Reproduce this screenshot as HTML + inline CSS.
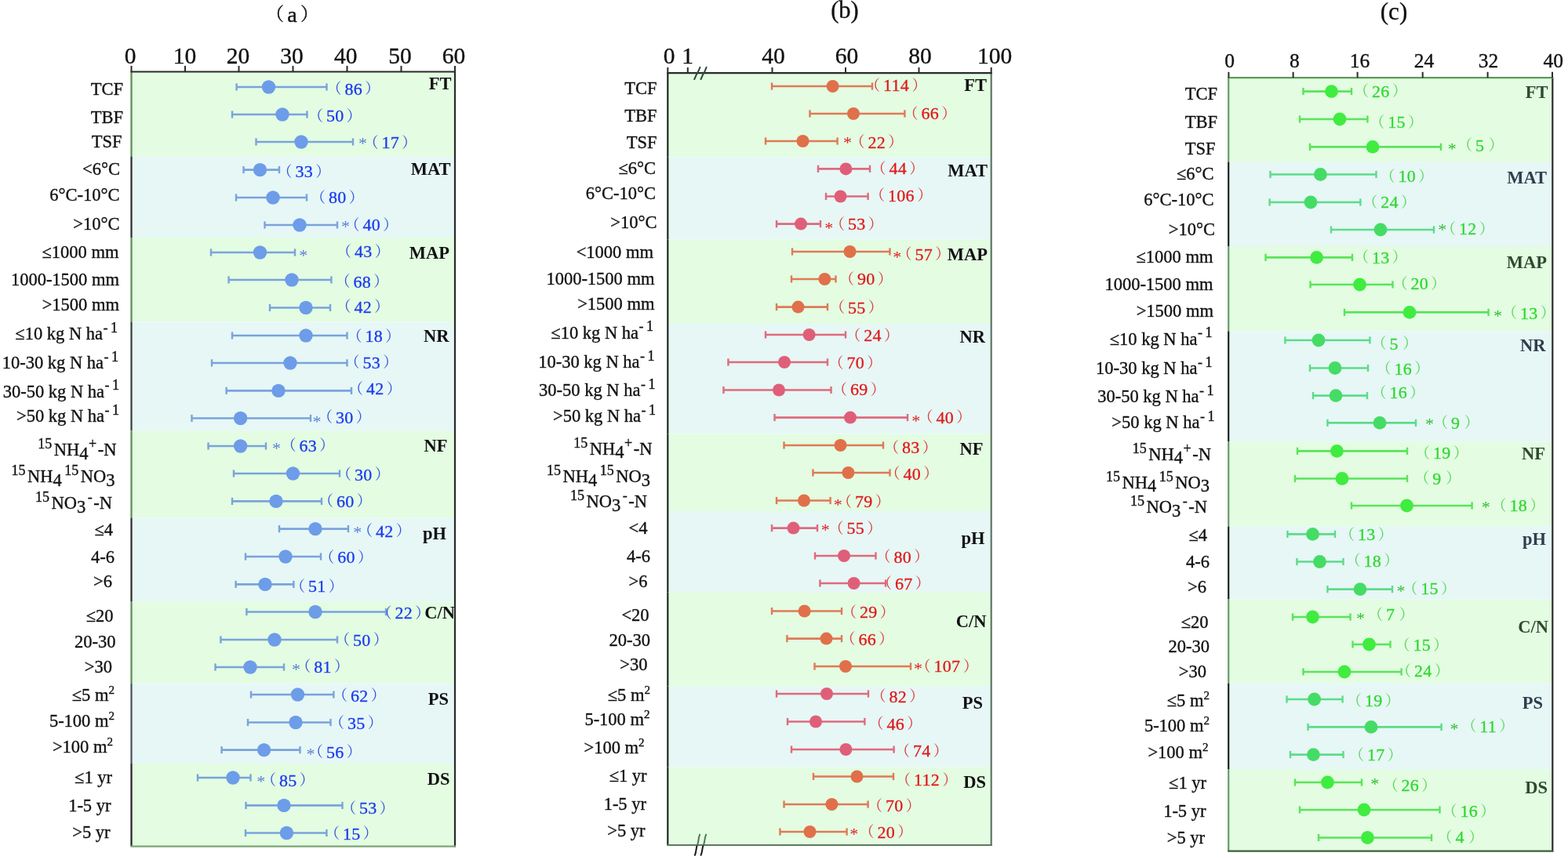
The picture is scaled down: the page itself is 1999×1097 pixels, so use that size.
<!DOCTYPE html>
<html><head><meta charset="utf-8"><title>Figure</title>
<style>
html,body{margin:0;padding:0;background:#fff;}
svg{display:block;}
svg text{font-family:'Liberation Serif', 'Noto Serif CJK SC', serif;}
svg .lbl{stroke:#111;stroke-width:0.35px;}
svg .cjk{font-family:'Noto Serif CJK SC',serif;}
svg .lat{font-family:'Liberation Serif',serif;}
</style></head>
<body>
<svg width="1999" height="1097" viewBox="0 0 1999 1097">
<rect width="1999" height="1097" fill="#fff"/>
<rect x="167.5" y="91.5" width="412.5" height="108.0" fill="#e3fce2"/>
<rect x="167.5" y="199.5" width="412.5" height="103.5" fill="#e6f7f6"/>
<rect x="167.5" y="303.0" width="412.5" height="107.5" fill="#e3fce2"/>
<rect x="167.5" y="410.5" width="412.5" height="138.9" fill="#e6f7f6"/>
<rect x="167.5" y="549.4" width="412.5" height="111.1" fill="#e3fce2"/>
<rect x="167.5" y="660.5" width="412.5" height="107.1" fill="#e6f7f6"/>
<rect x="167.5" y="767.6" width="412.5" height="103.8" fill="#e3fce2"/>
<rect x="167.5" y="871.4" width="412.5" height="102.6" fill="#e6f7f6"/>
<rect x="167.5" y="974.0" width="412.5" height="105.6" fill="#e3fce2"/>
<line x1="167.5" y1="91.5" x2="167.5" y2="199.5" stroke="#5e8a55" stroke-width="2.2"/>
<line x1="167.5" y1="199.5" x2="167.5" y2="303.0" stroke="#2b2b2b" stroke-width="2.2"/>
<line x1="167.5" y1="303.0" x2="167.5" y2="410.5" stroke="#5e8a55" stroke-width="2.2"/>
<line x1="167.5" y1="410.5" x2="167.5" y2="549.4" stroke="#34403a" stroke-width="2.2"/>
<line x1="167.5" y1="549.4" x2="167.5" y2="660.5" stroke="#5e8a55" stroke-width="2.2"/>
<line x1="167.5" y1="660.5" x2="167.5" y2="767.6" stroke="#2b2b2b" stroke-width="2.2"/>
<line x1="167.5" y1="767.6" x2="167.5" y2="871.4" stroke="#5e8a55" stroke-width="2.2"/>
<line x1="167.5" y1="871.4" x2="167.5" y2="974.0" stroke="#4a5058" stroke-width="2.2"/>
<line x1="167.5" y1="974.0" x2="167.5" y2="1079.6" stroke="#222222" stroke-width="2.2"/>
<line x1="580.0" y1="91.5" x2="580.0" y2="1080.6" stroke="#2b2b2b" stroke-width="2.2"/>
<line x1="166.5" y1="1079.6" x2="581.0" y2="1079.6" stroke="#7ea476" stroke-width="2.2"/>
<line x1="166.5" y1="91.5" x2="581.0" y2="91.5" stroke="#2b2b2b" stroke-width="2.2"/>
<line x1="167.5" y1="84.0" x2="167.5" y2="91.5" stroke="#2b2b2b" stroke-width="2"/>
<text class="lbl" x="166.2" y="81.0" text-anchor="middle" font-size="29.5" fill="#111">0</text>
<line x1="236.0" y1="84.0" x2="236.0" y2="91.5" stroke="#2b2b2b" stroke-width="2"/>
<text class="lbl" x="235.5" y="81.0" text-anchor="middle" font-size="29.5" fill="#111">10</text>
<line x1="304.5" y1="84.0" x2="304.5" y2="91.5" stroke="#2b2b2b" stroke-width="2"/>
<text class="lbl" x="303.5" y="81.0" text-anchor="middle" font-size="29.5" fill="#111">20</text>
<line x1="373.5" y1="84.0" x2="373.5" y2="91.5" stroke="#2b2b2b" stroke-width="2"/>
<text class="lbl" x="372.0" y="81.0" text-anchor="middle" font-size="29.5" fill="#111">30</text>
<line x1="442.5" y1="84.0" x2="442.5" y2="91.5" stroke="#2b2b2b" stroke-width="2"/>
<text class="lbl" x="440.8" y="81.0" text-anchor="middle" font-size="29.5" fill="#111">40</text>
<line x1="511.5" y1="84.0" x2="511.5" y2="91.5" stroke="#2b2b2b" stroke-width="2"/>
<text class="lbl" x="510.0" y="81.0" text-anchor="middle" font-size="29.5" fill="#111">50</text>
<line x1="580.0" y1="84.0" x2="580.0" y2="91.5" stroke="#2b2b2b" stroke-width="2"/>
<text class="lbl" x="578.6" y="81.0" text-anchor="middle" font-size="29.5" fill="#111">60</text>
<text class="lbl" x="339" y="27.5" font-size="23" fill="#111"><tspan class="cjk" dy="-1.2">（</tspan><tspan class="lat" font-size="28" dx="4.3" dy="1.2">a</tspan><tspan class="cjk" dx="4.3" dy="-1.2">）</tspan></text>
<line x1="301.6" y1="111.0" x2="416.5" y2="111.0" stroke="#7aa3dc" stroke-width="2.6"/>
<line x1="301.6" y1="106.4" x2="301.6" y2="115.6" stroke="#7aa3dc" stroke-width="2.4"/>
<line x1="416.5" y1="106.4" x2="416.5" y2="115.6" stroke="#7aa3dc" stroke-width="2.4"/>
<circle cx="342.5" cy="111.0" r="8.7" fill="#6d9ce8"/>
<text x="416.4" y="120.9" font-size="19" fill="#1a3af0"><tspan class="cjk" dy="-0.5" fill="#3556e0">（</tspan><tspan class="lat" dx="4.0" dy="0.5" font-size="22" letter-spacing="0.3" stroke="#1a3af0" stroke-width="0.3">86</tspan><tspan class="cjk" dx="3.1" dy="-0.5" fill="#3556e0">）</tspan></text>
<text class="lbl" x="157.0" y="121.4" text-anchor="end" fill="#111" ><tspan font-size="22.5">TCF</tspan></text>
<line x1="296.0" y1="146.0" x2="391.5" y2="146.0" stroke="#7aa3dc" stroke-width="2.6"/>
<line x1="296.0" y1="141.4" x2="296.0" y2="150.6" stroke="#7aa3dc" stroke-width="2.4"/>
<line x1="391.5" y1="141.4" x2="391.5" y2="150.6" stroke="#7aa3dc" stroke-width="2.4"/>
<circle cx="360.0" cy="146.0" r="8.7" fill="#6d9ce8"/>
<text x="392.9" y="155.3" font-size="19" fill="#1a3af0"><tspan class="cjk" dy="-0.5" fill="#3556e0">（</tspan><tspan class="lat" dx="4.0" dy="0.5" font-size="22" letter-spacing="0.3" stroke="#1a3af0" stroke-width="0.3">50</tspan><tspan class="cjk" dx="3.1" dy="-0.5" fill="#3556e0">）</tspan></text>
<text class="lbl" x="157.0" y="157.2" text-anchor="end" fill="#111" ><tspan font-size="22.5">TBF</tspan></text>
<line x1="326.5" y1="181.0" x2="450.0" y2="181.0" stroke="#7aa3dc" stroke-width="2.6"/>
<line x1="326.5" y1="176.4" x2="326.5" y2="185.6" stroke="#7aa3dc" stroke-width="2.4"/>
<line x1="450.0" y1="176.4" x2="450.0" y2="185.6" stroke="#7aa3dc" stroke-width="2.4"/>
<circle cx="384.0" cy="181.0" r="8.7" fill="#6d9ce8"/>
<text x="462.5" y="189.8" text-anchor="middle" font-size="22" fill="#5a7fd8">*</text>
<text x="463.4" y="189.2" font-size="19" fill="#1a3af0"><tspan class="cjk" dy="-0.5" fill="#3556e0">（</tspan><tspan class="lat" dx="4.0" dy="0.5" font-size="22" letter-spacing="0.3" stroke="#1a3af0" stroke-width="0.3">17</tspan><tspan class="cjk" dx="3.1" dy="-0.5" fill="#3556e0">）</tspan></text>
<text class="lbl" x="155.5" y="187.5" text-anchor="end" fill="#111" ><tspan font-size="22.5">TSF</tspan></text>
<line x1="310.5" y1="216.6" x2="356.0" y2="216.6" stroke="#7aa3dc" stroke-width="2.6"/>
<line x1="310.5" y1="212.0" x2="310.5" y2="221.2" stroke="#7aa3dc" stroke-width="2.4"/>
<line x1="356.0" y1="212.0" x2="356.0" y2="221.2" stroke="#7aa3dc" stroke-width="2.4"/>
<circle cx="331.5" cy="216.6" r="8.7" fill="#6d9ce8"/>
<text x="353.4" y="226.2" font-size="19" fill="#1a3af0"><tspan class="cjk" dy="-0.5" fill="#3556e0">（</tspan><tspan class="lat" dx="4.0" dy="0.5" font-size="22" letter-spacing="0.3" stroke="#1a3af0" stroke-width="0.3">33</tspan><tspan class="cjk" dx="3.1" dy="-0.5" fill="#3556e0">）</tspan></text>
<text class="lbl" x="153.0" y="222.6" text-anchor="end" fill="#111" ><tspan font-size="22.5">&lt;6°C</tspan></text>
<line x1="301.0" y1="252.0" x2="391.0" y2="252.0" stroke="#7aa3dc" stroke-width="2.6"/>
<line x1="301.0" y1="247.4" x2="301.0" y2="256.6" stroke="#7aa3dc" stroke-width="2.4"/>
<line x1="391.0" y1="247.4" x2="391.0" y2="256.6" stroke="#7aa3dc" stroke-width="2.4"/>
<circle cx="348.0" cy="252.0" r="8.7" fill="#6d9ce8"/>
<text x="395.9" y="259.3" font-size="19" fill="#1a3af0"><tspan class="cjk" dy="-0.5" fill="#3556e0">（</tspan><tspan class="lat" dx="4.0" dy="0.5" font-size="22" letter-spacing="0.3" stroke="#1a3af0" stroke-width="0.3">80</tspan><tspan class="cjk" dx="3.1" dy="-0.5" fill="#3556e0">）</tspan></text>
<text class="lbl" x="152.5" y="256.3" text-anchor="end" fill="#111" ><tspan font-size="22.5">6°C-10°C</tspan></text>
<line x1="337.5" y1="287.0" x2="430.0" y2="287.0" stroke="#7aa3dc" stroke-width="2.6"/>
<line x1="337.5" y1="282.4" x2="337.5" y2="291.6" stroke="#7aa3dc" stroke-width="2.4"/>
<line x1="430.0" y1="282.4" x2="430.0" y2="291.6" stroke="#7aa3dc" stroke-width="2.4"/>
<circle cx="382.0" cy="287.0" r="8.7" fill="#6d9ce8"/>
<text x="440.4" y="296.1" text-anchor="middle" font-size="22" fill="#5a7fd8">*</text>
<text x="439.4" y="294.2" font-size="19" fill="#1a3af0"><tspan class="cjk" dy="-0.5" fill="#3556e0">（</tspan><tspan class="lat" dx="4.0" dy="0.5" font-size="22" letter-spacing="0.3" stroke="#1a3af0" stroke-width="0.3">40</tspan><tspan class="cjk" dx="3.1" dy="-0.5" fill="#3556e0">）</tspan></text>
<text class="lbl" x="152.5" y="292.7" text-anchor="end" fill="#111" ><tspan font-size="22.5">&gt;10°C</tspan></text>
<line x1="269.0" y1="322.0" x2="376.0" y2="322.0" stroke="#7aa3dc" stroke-width="2.6"/>
<line x1="269.0" y1="317.4" x2="269.0" y2="326.6" stroke="#7aa3dc" stroke-width="2.4"/>
<line x1="376.0" y1="317.4" x2="376.0" y2="326.6" stroke="#7aa3dc" stroke-width="2.4"/>
<circle cx="331.5" cy="322.0" r="8.7" fill="#6d9ce8"/>
<text x="386.8" y="332.8" text-anchor="middle" font-size="22" fill="#5a7fd8">*</text>
<text x="428.9" y="328.4" font-size="19" fill="#1a3af0"><tspan class="cjk" dy="-0.5" fill="#3556e0">（</tspan><tspan class="lat" dx="4.0" dy="0.5" font-size="22" letter-spacing="0.3" stroke="#1a3af0" stroke-width="0.3">43</tspan><tspan class="cjk" dx="3.1" dy="-0.5" fill="#3556e0">）</tspan></text>
<text class="lbl" x="151.5" y="329.0" text-anchor="end" fill="#111" ><tspan font-size="22.5">≤1000 mm</tspan></text>
<line x1="291.6" y1="357.0" x2="422.4" y2="357.0" stroke="#7aa3dc" stroke-width="2.6"/>
<line x1="291.6" y1="352.4" x2="291.6" y2="361.6" stroke="#7aa3dc" stroke-width="2.4"/>
<line x1="422.4" y1="352.4" x2="422.4" y2="361.6" stroke="#7aa3dc" stroke-width="2.4"/>
<circle cx="372.0" cy="357.0" r="8.7" fill="#6d9ce8"/>
<text x="427.4" y="366.7" font-size="19" fill="#1a3af0"><tspan class="cjk" dy="-0.5" fill="#3556e0">（</tspan><tspan class="lat" dx="4.0" dy="0.5" font-size="22" letter-spacing="0.3" stroke="#1a3af0" stroke-width="0.3">68</tspan><tspan class="cjk" dx="3.1" dy="-0.5" fill="#3556e0">）</tspan></text>
<text class="lbl" x="152.0" y="364.2" text-anchor="end" fill="#111" ><tspan font-size="22.5">1000-1500 mm</tspan></text>
<line x1="344.0" y1="392.5" x2="421.0" y2="392.5" stroke="#7aa3dc" stroke-width="2.6"/>
<line x1="344.0" y1="387.9" x2="344.0" y2="397.1" stroke="#7aa3dc" stroke-width="2.4"/>
<line x1="421.0" y1="387.9" x2="421.0" y2="397.1" stroke="#7aa3dc" stroke-width="2.4"/>
<circle cx="390.0" cy="392.5" r="8.7" fill="#6d9ce8"/>
<text x="428.4" y="398.8" font-size="19" fill="#1a3af0"><tspan class="cjk" dy="-0.5" fill="#3556e0">（</tspan><tspan class="lat" dx="4.0" dy="0.5" font-size="22" letter-spacing="0.3" stroke="#1a3af0" stroke-width="0.3">42</tspan><tspan class="cjk" dx="3.1" dy="-0.5" fill="#3556e0">）</tspan></text>
<text class="lbl" x="152.0" y="396.0" text-anchor="end" fill="#111" ><tspan font-size="22.5">&gt;1500 mm</tspan></text>
<line x1="296.0" y1="428.0" x2="442.5" y2="428.0" stroke="#7aa3dc" stroke-width="2.6"/>
<line x1="296.0" y1="423.4" x2="296.0" y2="432.6" stroke="#7aa3dc" stroke-width="2.4"/>
<line x1="442.5" y1="423.4" x2="442.5" y2="432.6" stroke="#7aa3dc" stroke-width="2.4"/>
<circle cx="390.0" cy="428.0" r="8.7" fill="#6d9ce8"/>
<text x="442.4" y="436.2" font-size="19" fill="#1a3af0"><tspan class="cjk" dy="-0.5" fill="#3556e0">（</tspan><tspan class="lat" dx="4.0" dy="0.5" font-size="22" letter-spacing="0.3" stroke="#1a3af0" stroke-width="0.3">18</tspan><tspan class="cjk" dx="3.1" dy="-0.5" fill="#3556e0">）</tspan></text>
<text class="lbl" x="150.0" y="433.0" text-anchor="end" fill="#111" ><tspan font-size="22.5">≤10 kg N ha</tspan><tspan font-size="18" dy="-9.5" dx="0.5">-</tspan><tspan font-size="18" dx="3.5">1</tspan></text>
<line x1="270.0" y1="463.0" x2="442.5" y2="463.0" stroke="#7aa3dc" stroke-width="2.6"/>
<line x1="270.0" y1="458.4" x2="270.0" y2="467.6" stroke="#7aa3dc" stroke-width="2.4"/>
<line x1="442.5" y1="458.4" x2="442.5" y2="467.6" stroke="#7aa3dc" stroke-width="2.4"/>
<circle cx="370.0" cy="463.0" r="8.7" fill="#6d9ce8"/>
<text x="439.4" y="469.7" font-size="19" fill="#1a3af0"><tspan class="cjk" dy="-0.5" fill="#3556e0">（</tspan><tspan class="lat" dx="4.0" dy="0.5" font-size="22" letter-spacing="0.3" stroke="#1a3af0" stroke-width="0.3">53</tspan><tspan class="cjk" dx="3.1" dy="-0.5" fill="#3556e0">）</tspan></text>
<text class="lbl" x="151.0" y="470.0" text-anchor="end" fill="#111" ><tspan font-size="22.5">10-30 kg N ha</tspan><tspan font-size="18" dy="-9.5" dx="0.5">-</tspan><tspan font-size="18" dx="3.5">1</tspan></text>
<line x1="288.6" y1="498.4" x2="448.0" y2="498.4" stroke="#7aa3dc" stroke-width="2.6"/>
<line x1="288.6" y1="493.8" x2="288.6" y2="503.0" stroke="#7aa3dc" stroke-width="2.4"/>
<line x1="448.0" y1="493.8" x2="448.0" y2="503.0" stroke="#7aa3dc" stroke-width="2.4"/>
<circle cx="355.0" cy="498.4" r="8.7" fill="#6d9ce8"/>
<text x="443.9" y="503.2" font-size="19" fill="#1a3af0"><tspan class="cjk" dy="-0.5" fill="#3556e0">（</tspan><tspan class="lat" dx="4.0" dy="0.5" font-size="22" letter-spacing="0.3" stroke="#1a3af0" stroke-width="0.3">42</tspan><tspan class="cjk" dx="3.1" dy="-0.5" fill="#3556e0">）</tspan></text>
<text class="lbl" x="152.0" y="506.5" text-anchor="end" fill="#111" ><tspan font-size="22.5">30-50 kg N ha</tspan><tspan font-size="18" dy="-9.5" dx="0.5">-</tspan><tspan font-size="18" dx="3.5">1</tspan></text>
<line x1="244.5" y1="533.5" x2="396.0" y2="533.5" stroke="#7aa3dc" stroke-width="2.6"/>
<line x1="244.5" y1="528.9" x2="244.5" y2="538.1" stroke="#7aa3dc" stroke-width="2.4"/>
<line x1="396.0" y1="528.9" x2="396.0" y2="538.1" stroke="#7aa3dc" stroke-width="2.4"/>
<circle cx="306.6" cy="533.5" r="8.7" fill="#6d9ce8"/>
<text x="404.0" y="544.7" text-anchor="middle" font-size="22" fill="#5a7fd8">*</text>
<text x="404.9" y="539.9" font-size="19" fill="#1a3af0"><tspan class="cjk" dy="-0.5" fill="#3556e0">（</tspan><tspan class="lat" dx="4.0" dy="0.5" font-size="22" letter-spacing="0.3" stroke="#1a3af0" stroke-width="0.3">30</tspan><tspan class="cjk" dx="3.1" dy="-0.5" fill="#3556e0">）</tspan></text>
<text class="lbl" x="152.0" y="538.4" text-anchor="end" fill="#111" ><tspan font-size="22.5">&gt;50 kg N ha</tspan><tspan font-size="18" dy="-9.5" dx="0.5">-</tspan><tspan font-size="18" dx="3.5">1</tspan></text>
<line x1="265.5" y1="569.0" x2="339.0" y2="569.0" stroke="#7aa3dc" stroke-width="2.6"/>
<line x1="265.5" y1="564.4" x2="265.5" y2="573.6" stroke="#7aa3dc" stroke-width="2.4"/>
<line x1="339.0" y1="564.4" x2="339.0" y2="573.6" stroke="#7aa3dc" stroke-width="2.4"/>
<circle cx="306.6" cy="569.0" r="8.7" fill="#6d9ce8"/>
<text x="352.5" y="579.1" text-anchor="middle" font-size="22" fill="#5a7fd8">*</text>
<text x="358.4" y="575.9" font-size="19" fill="#1a3af0"><tspan class="cjk" dy="-0.5" fill="#3556e0">（</tspan><tspan class="lat" dx="4.0" dy="0.5" font-size="22" letter-spacing="0.3" stroke="#1a3af0" stroke-width="0.3">63</tspan><tspan class="cjk" dx="3.1" dy="-0.5" fill="#3556e0">）</tspan></text>
<text class="lbl" x="148.5" y="581.0" text-anchor="end" fill="#111" ><tspan font-size="18" dy="-9">15</tspan><tspan font-size="22.5" dy="9" dx="2.5">NH</tspan><tspan font-size="22.5" dy="4.5">4</tspan><tspan font-size="18" dy="-13.5" dx="0.5">+</tspan><tspan font-size="22.5" dy="9" dx="1.5">-N</tspan></text>
<line x1="298.0" y1="604.0" x2="433.0" y2="604.0" stroke="#7aa3dc" stroke-width="2.6"/>
<line x1="298.0" y1="599.4" x2="298.0" y2="608.6" stroke="#7aa3dc" stroke-width="2.4"/>
<line x1="433.0" y1="599.4" x2="433.0" y2="608.6" stroke="#7aa3dc" stroke-width="2.4"/>
<circle cx="373.5" cy="604.0" r="8.7" fill="#6d9ce8"/>
<text x="428.9" y="612.7" font-size="19" fill="#1a3af0"><tspan class="cjk" dy="-0.5" fill="#3556e0">（</tspan><tspan class="lat" dx="4.0" dy="0.5" font-size="22" letter-spacing="0.3" stroke="#1a3af0" stroke-width="0.3">30</tspan><tspan class="cjk" dx="3.1" dy="-0.5" fill="#3556e0">）</tspan></text>
<text class="lbl" x="146.5" y="615.2" text-anchor="end" fill="#111" ><tspan font-size="18" dy="-9">15</tspan><tspan font-size="22.5" dy="9" dx="2.5">NH</tspan><tspan font-size="22.5" dy="4.5">4</tspan><tspan font-size="18" dy="-13.5" dx="3.5">15</tspan><tspan font-size="22.5" dy="9" dx="2.5">NO</tspan><tspan font-size="22.5" dy="4.5">3</tspan></text>
<line x1="296.0" y1="639.4" x2="410.0" y2="639.4" stroke="#7aa3dc" stroke-width="2.6"/>
<line x1="296.0" y1="634.8" x2="296.0" y2="644.0" stroke="#7aa3dc" stroke-width="2.4"/>
<line x1="410.0" y1="634.8" x2="410.0" y2="644.0" stroke="#7aa3dc" stroke-width="2.4"/>
<circle cx="352.0" cy="639.4" r="8.7" fill="#6d9ce8"/>
<text x="405.9" y="646.7" font-size="19" fill="#1a3af0"><tspan class="cjk" dy="-0.5" fill="#3556e0">（</tspan><tspan class="lat" dx="4.0" dy="0.5" font-size="22" letter-spacing="0.3" stroke="#1a3af0" stroke-width="0.3">60</tspan><tspan class="cjk" dx="3.1" dy="-0.5" fill="#3556e0">）</tspan></text>
<text class="lbl" x="143.0" y="649.3" text-anchor="end" fill="#111" ><tspan font-size="18" dy="-9">15</tspan><tspan font-size="22.5" dy="9" dx="2.5">NO</tspan><tspan font-size="22.5" dy="4.5">3</tspan><tspan font-size="18" dy="-13.5" dx="2.5">-</tspan><tspan font-size="22.5" dy="9" dx="1.5">-N</tspan></text>
<line x1="356.0" y1="674.6" x2="444.0" y2="674.6" stroke="#7aa3dc" stroke-width="2.6"/>
<line x1="356.0" y1="670.0" x2="356.0" y2="679.2" stroke="#7aa3dc" stroke-width="2.4"/>
<line x1="444.0" y1="670.0" x2="444.0" y2="679.2" stroke="#7aa3dc" stroke-width="2.4"/>
<circle cx="402.0" cy="674.6" r="8.7" fill="#6d9ce8"/>
<text x="455.7" y="686.4" text-anchor="middle" font-size="22" fill="#5a7fd8">*</text>
<text x="455.9" y="684.5" font-size="19" fill="#1a3af0"><tspan class="cjk" dy="-0.5" fill="#3556e0">（</tspan><tspan class="lat" dx="4.0" dy="0.5" font-size="22" letter-spacing="0.3" stroke="#1a3af0" stroke-width="0.3">42</tspan><tspan class="cjk" dx="3.1" dy="-0.5" fill="#3556e0">）</tspan></text>
<text class="lbl" x="144.0" y="683.0" text-anchor="end" fill="#111" ><tspan font-size="22.5">≤4</tspan></text>
<line x1="313.0" y1="710.0" x2="409.0" y2="710.0" stroke="#7aa3dc" stroke-width="2.6"/>
<line x1="313.0" y1="705.4" x2="313.0" y2="714.6" stroke="#7aa3dc" stroke-width="2.4"/>
<line x1="409.0" y1="705.4" x2="409.0" y2="714.6" stroke="#7aa3dc" stroke-width="2.4"/>
<circle cx="364.0" cy="710.0" r="8.7" fill="#6d9ce8"/>
<text x="407.3" y="718.0" font-size="19" fill="#1a3af0"><tspan class="cjk" dy="-0.5" fill="#3556e0">（</tspan><tspan class="lat" dx="4.0" dy="0.5" font-size="22" letter-spacing="0.3" stroke="#1a3af0" stroke-width="0.3">60</tspan><tspan class="cjk" dx="3.1" dy="-0.5" fill="#3556e0">）</tspan></text>
<text class="lbl" x="146.0" y="717.7" text-anchor="end" fill="#111" ><tspan font-size="22.5">4-6</tspan></text>
<line x1="300.6" y1="745.4" x2="374.4" y2="745.4" stroke="#7aa3dc" stroke-width="2.6"/>
<line x1="300.6" y1="740.8" x2="300.6" y2="750.0" stroke="#7aa3dc" stroke-width="2.4"/>
<line x1="374.4" y1="740.8" x2="374.4" y2="750.0" stroke="#7aa3dc" stroke-width="2.4"/>
<circle cx="338.0" cy="745.4" r="8.7" fill="#6d9ce8"/>
<text x="369.9" y="755.3" font-size="19" fill="#1a3af0"><tspan class="cjk" dy="-0.5" fill="#3556e0">（</tspan><tspan class="lat" dx="4.0" dy="0.5" font-size="22" letter-spacing="0.3" stroke="#1a3af0" stroke-width="0.3">51</tspan><tspan class="cjk" dx="3.1" dy="-0.5" fill="#3556e0">）</tspan></text>
<text class="lbl" x="143.0" y="749.0" text-anchor="end" fill="#111" ><tspan font-size="22.5">&gt;6</tspan></text>
<line x1="314.4" y1="780.5" x2="492.0" y2="780.5" stroke="#7aa3dc" stroke-width="2.6"/>
<line x1="314.4" y1="775.9" x2="314.4" y2="785.1" stroke="#7aa3dc" stroke-width="2.4"/>
<line x1="492.0" y1="775.9" x2="492.0" y2="785.1" stroke="#7aa3dc" stroke-width="2.4"/>
<circle cx="402.0" cy="780.5" r="8.7" fill="#6d9ce8"/>
<text x="480.5" y="789.2" font-size="19" fill="#1a3af0"><tspan class="cjk" dy="-0.5" fill="#3556e0">（</tspan><tspan class="lat" dx="4.0" dy="0.5" font-size="22" letter-spacing="0.3" stroke="#1a3af0" stroke-width="0.3">22</tspan><tspan class="cjk" dx="3.1" dy="-0.5" fill="#3556e0">）</tspan></text>
<text class="lbl" x="144.5" y="793.0" text-anchor="end" fill="#111" ><tspan font-size="22.5">≤20</tspan></text>
<line x1="281.4" y1="816.0" x2="430.0" y2="816.0" stroke="#7aa3dc" stroke-width="2.6"/>
<line x1="281.4" y1="811.4" x2="281.4" y2="820.6" stroke="#7aa3dc" stroke-width="2.4"/>
<line x1="430.0" y1="811.4" x2="430.0" y2="820.6" stroke="#7aa3dc" stroke-width="2.4"/>
<circle cx="350.0" cy="816.0" r="8.7" fill="#6d9ce8"/>
<text x="426.9" y="823.6" font-size="19" fill="#1a3af0"><tspan class="cjk" dy="-0.5" fill="#3556e0">（</tspan><tspan class="lat" dx="4.0" dy="0.5" font-size="22" letter-spacing="0.3" stroke="#1a3af0" stroke-width="0.3">50</tspan><tspan class="cjk" dx="3.1" dy="-0.5" fill="#3556e0">）</tspan></text>
<text class="lbl" x="147.5" y="825.6" text-anchor="end" fill="#111" ><tspan font-size="22.5">20-30</tspan></text>
<line x1="274.5" y1="851.0" x2="362.0" y2="851.0" stroke="#7aa3dc" stroke-width="2.6"/>
<line x1="274.5" y1="846.4" x2="274.5" y2="855.6" stroke="#7aa3dc" stroke-width="2.4"/>
<line x1="362.0" y1="846.4" x2="362.0" y2="855.6" stroke="#7aa3dc" stroke-width="2.4"/>
<circle cx="319.0" cy="851.0" r="8.7" fill="#6d9ce8"/>
<text x="377.6" y="861.0" text-anchor="middle" font-size="22" fill="#5a7fd8">*</text>
<text x="377.3" y="857.5" font-size="19" fill="#1a3af0"><tspan class="cjk" dy="-0.5" fill="#3556e0">（</tspan><tspan class="lat" dx="4.0" dy="0.5" font-size="22" letter-spacing="0.3" stroke="#1a3af0" stroke-width="0.3">81</tspan><tspan class="cjk" dx="3.1" dy="-0.5" fill="#3556e0">）</tspan></text>
<text class="lbl" x="143.0" y="858.0" text-anchor="end" fill="#111" ><tspan font-size="22.5">&gt;30</tspan></text>
<line x1="320.0" y1="886.0" x2="425.4" y2="886.0" stroke="#7aa3dc" stroke-width="2.6"/>
<line x1="320.0" y1="881.4" x2="320.0" y2="890.6" stroke="#7aa3dc" stroke-width="2.4"/>
<line x1="425.4" y1="881.4" x2="425.4" y2="890.6" stroke="#7aa3dc" stroke-width="2.4"/>
<circle cx="379.5" cy="886.0" r="8.7" fill="#6d9ce8"/>
<text x="423.9" y="894.5" font-size="19" fill="#1a3af0"><tspan class="cjk" dy="-0.5" fill="#3556e0">（</tspan><tspan class="lat" dx="4.0" dy="0.5" font-size="22" letter-spacing="0.3" stroke="#1a3af0" stroke-width="0.3">62</tspan><tspan class="cjk" dx="3.1" dy="-0.5" fill="#3556e0">）</tspan></text>
<text class="lbl" x="146.0" y="894.4" text-anchor="end" fill="#111" ><tspan font-size="22.5">≤5 m</tspan><tspan font-size="15" dy="-9">2</tspan></text>
<line x1="316.0" y1="921.5" x2="421.5" y2="921.5" stroke="#7aa3dc" stroke-width="2.6"/>
<line x1="316.0" y1="916.9" x2="316.0" y2="926.1" stroke="#7aa3dc" stroke-width="2.4"/>
<line x1="421.5" y1="916.9" x2="421.5" y2="926.1" stroke="#7aa3dc" stroke-width="2.4"/>
<circle cx="377.0" cy="921.5" r="8.7" fill="#6d9ce8"/>
<text x="419.9" y="929.5" font-size="19" fill="#1a3af0"><tspan class="cjk" dy="-0.5" fill="#3556e0">（</tspan><tspan class="lat" dx="4.0" dy="0.5" font-size="22" letter-spacing="0.3" stroke="#1a3af0" stroke-width="0.3">35</tspan><tspan class="cjk" dx="3.1" dy="-0.5" fill="#3556e0">）</tspan></text>
<text class="lbl" x="146.0" y="927.0" text-anchor="end" fill="#111" ><tspan font-size="22.5">5-100 m</tspan><tspan font-size="15" dy="-9">2</tspan></text>
<line x1="282.6" y1="956.6" x2="382.5" y2="956.6" stroke="#7aa3dc" stroke-width="2.6"/>
<line x1="282.6" y1="952.0" x2="282.6" y2="961.2" stroke="#7aa3dc" stroke-width="2.4"/>
<line x1="382.5" y1="952.0" x2="382.5" y2="961.2" stroke="#7aa3dc" stroke-width="2.4"/>
<circle cx="336.6" cy="956.6" r="8.7" fill="#6d9ce8"/>
<text x="395.9" y="969.3" text-anchor="middle" font-size="22" fill="#5a7fd8">*</text>
<text x="392.9" y="966.5" font-size="19" fill="#1a3af0"><tspan class="cjk" dy="-0.5" fill="#3556e0">（</tspan><tspan class="lat" dx="4.0" dy="0.5" font-size="22" letter-spacing="0.3" stroke="#1a3af0" stroke-width="0.3">56</tspan><tspan class="cjk" dx="3.1" dy="-0.5" fill="#3556e0">）</tspan></text>
<text class="lbl" x="144.0" y="960.0" text-anchor="end" fill="#111" ><tspan font-size="22.5">&gt;100 m</tspan><tspan font-size="15" dy="-9">2</tspan></text>
<line x1="252.0" y1="992.0" x2="319.5" y2="992.0" stroke="#7aa3dc" stroke-width="2.6"/>
<line x1="252.0" y1="987.4" x2="252.0" y2="996.6" stroke="#7aa3dc" stroke-width="2.4"/>
<line x1="319.5" y1="987.4" x2="319.5" y2="996.6" stroke="#7aa3dc" stroke-width="2.4"/>
<circle cx="297.0" cy="992.0" r="8.7" fill="#6d9ce8"/>
<text x="332.7" y="1003.5" text-anchor="middle" font-size="22" fill="#5a7fd8">*</text>
<text x="332.9" y="1002.7" font-size="19" fill="#1a3af0"><tspan class="cjk" dy="-0.5" fill="#3556e0">（</tspan><tspan class="lat" dx="4.0" dy="0.5" font-size="22" letter-spacing="0.3" stroke="#1a3af0" stroke-width="0.3">85</tspan><tspan class="cjk" dx="3.1" dy="-0.5" fill="#3556e0">）</tspan></text>
<text class="lbl" x="143.0" y="999.2" text-anchor="end" fill="#111" ><tspan font-size="22.5">≤1 yr</tspan></text>
<line x1="313.5" y1="1027.4" x2="436.5" y2="1027.4" stroke="#7aa3dc" stroke-width="2.6"/>
<line x1="313.5" y1="1022.8" x2="313.5" y2="1032.0" stroke="#7aa3dc" stroke-width="2.4"/>
<line x1="436.5" y1="1022.8" x2="436.5" y2="1032.0" stroke="#7aa3dc" stroke-width="2.4"/>
<circle cx="362.0" cy="1027.4" r="8.7" fill="#6d9ce8"/>
<text x="434.9" y="1038.4" font-size="19" fill="#1a3af0"><tspan class="cjk" dy="-0.5" fill="#3556e0">（</tspan><tspan class="lat" dx="4.0" dy="0.5" font-size="22" letter-spacing="0.3" stroke="#1a3af0" stroke-width="0.3">53</tspan><tspan class="cjk" dx="3.1" dy="-0.5" fill="#3556e0">）</tspan></text>
<text class="lbl" x="141.5" y="1035.0" text-anchor="end" fill="#111" ><tspan font-size="22.5">1-5 yr</tspan></text>
<line x1="313.0" y1="1062.5" x2="416.4" y2="1062.5" stroke="#7aa3dc" stroke-width="2.6"/>
<line x1="313.0" y1="1057.9" x2="313.0" y2="1067.1" stroke="#7aa3dc" stroke-width="2.4"/>
<line x1="416.4" y1="1057.9" x2="416.4" y2="1067.1" stroke="#7aa3dc" stroke-width="2.4"/>
<circle cx="365.4" cy="1062.5" r="8.7" fill="#6d9ce8"/>
<text x="413.9" y="1070.8" font-size="19" fill="#1a3af0"><tspan class="cjk" dy="-0.5" fill="#3556e0">（</tspan><tspan class="lat" dx="4.0" dy="0.5" font-size="22" letter-spacing="0.3" stroke="#1a3af0" stroke-width="0.3">15</tspan><tspan class="cjk" dx="3.1" dy="-0.5" fill="#3556e0">）</tspan></text>
<text class="lbl" x="140.5" y="1069.0" text-anchor="end" fill="#111" ><tspan font-size="22.5">&gt;5 yr</tspan></text>
<text x="575.5" y="113.9" text-anchor="end" font-size="22.5" font-weight="bold" fill="#111">FT</text>
<text x="574.5" y="223.3" text-anchor="end" font-size="22.5" font-weight="bold" fill="#111">MAT</text>
<text x="573.0" y="330.3" text-anchor="end" font-size="22.5" font-weight="bold" fill="#111">MAP</text>
<text x="572.5" y="436.0" text-anchor="end" font-size="22.5" font-weight="bold" fill="#111">NR</text>
<text x="570.5" y="576.4" text-anchor="end" font-size="22.5" font-weight="bold" fill="#111">NF</text>
<text x="569.0" y="687.5" text-anchor="end" font-size="22.5" font-weight="bold" fill="#111">pH</text>
<text x="580.0" y="788.6" text-anchor="end" font-size="22.5" font-weight="bold" fill="#111">C/N</text>
<text x="572.0" y="899.0" text-anchor="end" font-size="22.5" font-weight="bold" fill="#111">PS</text>
<text x="573.5" y="1001.0" text-anchor="end" font-size="22.5" font-weight="bold" fill="#111">DS</text>
<rect x="851.3" y="93.2" width="412.4" height="107.2" fill="#e3fce2"/>
<rect x="851.3" y="200.4" width="412.4" height="105.0" fill="#e6f7f6"/>
<rect x="851.3" y="305.4" width="412.4" height="107.6" fill="#e3fce2"/>
<rect x="851.3" y="413.0" width="412.4" height="140.6" fill="#e6f7f6"/>
<rect x="851.3" y="553.6" width="412.4" height="98.4" fill="#e3fce2"/>
<rect x="851.3" y="652.0" width="412.4" height="103.5" fill="#e6f7f6"/>
<rect x="851.3" y="755.5" width="412.4" height="120.0" fill="#e3fce2"/>
<rect x="851.3" y="875.5" width="412.4" height="103.0" fill="#e6f7f6"/>
<rect x="851.3" y="978.5" width="412.4" height="99.5" fill="#e3fce2"/>
<line x1="851.3" y1="93.2" x2="851.3" y2="200.4" stroke="#222822" stroke-width="2.2"/>
<line x1="851.3" y1="200.4" x2="851.3" y2="305.4" stroke="#222822" stroke-width="2.2"/>
<line x1="851.3" y1="305.4" x2="851.3" y2="413.0" stroke="#222822" stroke-width="2.2"/>
<line x1="851.3" y1="413.0" x2="851.3" y2="553.6" stroke="#222822" stroke-width="2.2"/>
<line x1="851.3" y1="553.6" x2="851.3" y2="652.0" stroke="#222822" stroke-width="2.2"/>
<line x1="851.3" y1="652.0" x2="851.3" y2="755.5" stroke="#222822" stroke-width="2.2"/>
<line x1="851.3" y1="755.5" x2="851.3" y2="875.5" stroke="#222822" stroke-width="2.2"/>
<line x1="851.3" y1="875.5" x2="851.3" y2="978.5" stroke="#222822" stroke-width="2.2"/>
<line x1="851.3" y1="978.5" x2="851.3" y2="1078.0" stroke="#222822" stroke-width="2.2"/>
<line x1="1263.7" y1="93.2" x2="1263.7" y2="1079.0" stroke="#5f7565" stroke-width="2.2"/>
<line x1="850.3" y1="1078.0" x2="1264.7" y2="1078.0" stroke="#5b7b5b" stroke-width="2.2"/>
<line x1="850.3" y1="93.2" x2="1264.7" y2="93.2" stroke="#2b2b2b" stroke-width="2.2"/>
<line x1="851.3" y1="86.0" x2="851.3" y2="93.2" stroke="#2b2b2b" stroke-width="2"/>
<text class="lbl" x="853.2" y="80.5" text-anchor="middle" font-size="29.5" fill="#111">0</text>
<line x1="876.8" y1="86.0" x2="876.8" y2="93.2" stroke="#2b2b2b" stroke-width="2"/>
<text class="lbl" x="876.7" y="80.5" text-anchor="middle" font-size="29.5" fill="#111">1</text>
<line x1="984.5" y1="86.0" x2="984.5" y2="93.2" stroke="#2b2b2b" stroke-width="2"/>
<text class="lbl" x="985.9" y="80.5" text-anchor="middle" font-size="29.5" fill="#111">40</text>
<line x1="1078.0" y1="86.0" x2="1078.0" y2="93.2" stroke="#2b2b2b" stroke-width="2"/>
<text class="lbl" x="1079.5" y="80.5" text-anchor="middle" font-size="29.5" fill="#111">60</text>
<line x1="1171.5" y1="86.0" x2="1171.5" y2="93.2" stroke="#2b2b2b" stroke-width="2"/>
<text class="lbl" x="1173.1" y="80.5" text-anchor="middle" font-size="29.5" fill="#111">80</text>
<line x1="1263.7" y1="86.0" x2="1263.7" y2="93.2" stroke="#2b2b2b" stroke-width="2"/>
<text class="lbl" x="1268.0" y="80.5" text-anchor="middle" font-size="29.5" fill="#111">100</text>
<text class="lbl" x="1077.0" y="23.3" text-anchor="middle" font-size="30.5" fill="#111">(b)</text>
<line x1="984.0" y1="110.0" x2="1112.0" y2="110.0" stroke="#e07a55" stroke-width="2.6"/>
<line x1="984.0" y1="105.4" x2="984.0" y2="114.6" stroke="#e07a55" stroke-width="2.4"/>
<line x1="1112.0" y1="105.4" x2="1112.0" y2="114.6" stroke="#e07a55" stroke-width="2.4"/>
<circle cx="1061.6" cy="110.0" r="8.0" fill="#e0704a"/>
<text x="1102.9" y="116.4" font-size="19" fill="#e01818"><tspan class="cjk" dy="-0.5" fill="#e03a3a">（</tspan><tspan class="lat" dx="4.0" dy="0.5" font-size="22" letter-spacing="0.3" stroke="#e01818" stroke-width="0.3">114</tspan><tspan class="cjk" dx="3.6" dy="-0.5" fill="#e03a3a">）</tspan></text>
<text class="lbl" x="837.5" y="120.0" text-anchor="end" fill="#111" ><tspan font-size="22.5">TCF</tspan></text>
<line x1="1032.5" y1="145.0" x2="1153.4" y2="145.0" stroke="#e07a55" stroke-width="2.6"/>
<line x1="1032.5" y1="140.4" x2="1032.5" y2="149.6" stroke="#e07a55" stroke-width="2.4"/>
<line x1="1153.4" y1="140.4" x2="1153.4" y2="149.6" stroke="#e07a55" stroke-width="2.4"/>
<circle cx="1088.0" cy="145.0" r="8.0" fill="#e0704a"/>
<text x="1151.5" y="152.4" font-size="19" fill="#e01818"><tspan class="cjk" dy="-0.5" fill="#e03a3a">（</tspan><tspan class="lat" dx="4.0" dy="0.5" font-size="22" letter-spacing="0.3" stroke="#e01818" stroke-width="0.3">66</tspan><tspan class="cjk" dx="3.1" dy="-0.5" fill="#e03a3a">）</tspan></text>
<text class="lbl" x="837.5" y="154.5" text-anchor="end" fill="#111" ><tspan font-size="22.5">TBF</tspan></text>
<line x1="976.0" y1="180.0" x2="1067.6" y2="180.0" stroke="#e07a55" stroke-width="2.6"/>
<line x1="976.0" y1="175.4" x2="976.0" y2="184.6" stroke="#e07a55" stroke-width="2.4"/>
<line x1="1067.6" y1="175.4" x2="1067.6" y2="184.6" stroke="#e07a55" stroke-width="2.4"/>
<circle cx="1023.5" cy="180.0" r="8.0" fill="#e0704a"/>
<text x="1080.6" y="188.8" text-anchor="middle" font-size="22" fill="#e41c1c">*</text>
<text x="1083.4" y="188.8" font-size="19" fill="#e01818"><tspan class="cjk" dy="-0.5" fill="#e03a3a">（</tspan><tspan class="lat" dx="4.0" dy="0.5" font-size="22" letter-spacing="0.3" stroke="#e01818" stroke-width="0.3">22</tspan><tspan class="cjk" dx="3.1" dy="-0.5" fill="#e03a3a">）</tspan></text>
<text class="lbl" x="837.5" y="189.0" text-anchor="end" fill="#111" ><tspan font-size="22.5">TSF</tspan></text>
<line x1="1043.0" y1="215.4" x2="1109.0" y2="215.4" stroke="#e06a7c" stroke-width="2.6"/>
<line x1="1043.0" y1="210.8" x2="1043.0" y2="220.0" stroke="#e06a7c" stroke-width="2.4"/>
<line x1="1109.0" y1="210.8" x2="1109.0" y2="220.0" stroke="#e06a7c" stroke-width="2.4"/>
<circle cx="1078.4" cy="215.4" r="8.0" fill="#e05f78"/>
<text x="1110.4" y="222.3" font-size="19" fill="#e01818"><tspan class="cjk" dy="-0.5" fill="#e03a3a">（</tspan><tspan class="lat" dx="4.0" dy="0.5" font-size="22" letter-spacing="0.3" stroke="#e01818" stroke-width="0.3">44</tspan><tspan class="cjk" dx="3.1" dy="-0.5" fill="#e03a3a">）</tspan></text>
<text class="lbl" x="836.0" y="222.0" text-anchor="end" fill="#111" ><tspan font-size="22.5">≤6°C</tspan></text>
<line x1="1053.0" y1="250.5" x2="1106.6" y2="250.5" stroke="#e06a7c" stroke-width="2.6"/>
<line x1="1053.0" y1="245.9" x2="1053.0" y2="255.1" stroke="#e06a7c" stroke-width="2.4"/>
<line x1="1106.6" y1="245.9" x2="1106.6" y2="255.1" stroke="#e06a7c" stroke-width="2.4"/>
<circle cx="1071.5" cy="250.5" r="8.0" fill="#e05f78"/>
<text x="1108.9" y="256.7" font-size="19" fill="#e01818"><tspan class="cjk" dy="-0.5" fill="#e03a3a">（</tspan><tspan class="lat" dx="4.0" dy="0.5" font-size="22" letter-spacing="0.3" stroke="#e01818" stroke-width="0.3">106</tspan><tspan class="cjk" dx="3.6" dy="-0.5" fill="#e03a3a">）</tspan></text>
<text class="lbl" x="836.0" y="254.4" text-anchor="end" fill="#111" ><tspan font-size="22.5">6°C-10°C</tspan></text>
<line x1="990.0" y1="285.6" x2="1046.0" y2="285.6" stroke="#e06a7c" stroke-width="2.6"/>
<line x1="990.0" y1="281.0" x2="990.0" y2="290.2" stroke="#e06a7c" stroke-width="2.4"/>
<line x1="1046.0" y1="281.0" x2="1046.0" y2="290.2" stroke="#e06a7c" stroke-width="2.4"/>
<circle cx="1021.0" cy="285.6" r="8.0" fill="#e05f78"/>
<text x="1056.7" y="297.9" text-anchor="middle" font-size="22" fill="#e41c1c">*</text>
<text x="1057.9" y="293.0" font-size="19" fill="#e01818"><tspan class="cjk" dy="-0.5" fill="#e03a3a">（</tspan><tspan class="lat" dx="4.0" dy="0.5" font-size="22" letter-spacing="0.3" stroke="#e01818" stroke-width="0.3">53</tspan><tspan class="cjk" dx="3.1" dy="-0.5" fill="#e03a3a">）</tspan></text>
<text class="lbl" x="837.5" y="291.0" text-anchor="end" fill="#111" ><tspan font-size="22.5">&gt;10°C</tspan></text>
<line x1="1010.0" y1="321.0" x2="1134.5" y2="321.0" stroke="#e07a55" stroke-width="2.6"/>
<line x1="1010.0" y1="316.4" x2="1010.0" y2="325.6" stroke="#e07a55" stroke-width="2.4"/>
<line x1="1134.5" y1="316.4" x2="1134.5" y2="325.6" stroke="#e07a55" stroke-width="2.4"/>
<circle cx="1083.5" cy="321.0" r="8.0" fill="#e0704a"/>
<text x="1143.8" y="334.7" text-anchor="middle" font-size="22" fill="#e41c1c">*</text>
<text x="1143.4" y="331.8" font-size="19" fill="#e01818"><tspan class="cjk" dy="-0.5" fill="#e03a3a">（</tspan><tspan class="lat" dx="4.0" dy="0.5" font-size="22" letter-spacing="0.3" stroke="#e01818" stroke-width="0.3">57</tspan><tspan class="cjk" dx="3.1" dy="-0.5" fill="#e03a3a">）</tspan></text>
<text class="lbl" x="833.0" y="328.5" text-anchor="end" fill="#111" ><tspan font-size="22.5">&lt;1000 mm</tspan></text>
<line x1="1009.0" y1="356.0" x2="1065.5" y2="356.0" stroke="#e07a55" stroke-width="2.6"/>
<line x1="1009.0" y1="351.4" x2="1009.0" y2="360.6" stroke="#e07a55" stroke-width="2.4"/>
<line x1="1065.5" y1="351.4" x2="1065.5" y2="360.6" stroke="#e07a55" stroke-width="2.4"/>
<circle cx="1051.4" cy="356.0" r="8.0" fill="#e0704a"/>
<text x="1069.9" y="363.4" font-size="19" fill="#e01818"><tspan class="cjk" dy="-0.5" fill="#e03a3a">（</tspan><tspan class="lat" dx="4.0" dy="0.5" font-size="22" letter-spacing="0.3" stroke="#e01818" stroke-width="0.3">90</tspan><tspan class="cjk" dx="3.1" dy="-0.5" fill="#e03a3a">）</tspan></text>
<text class="lbl" x="834.5" y="363.0" text-anchor="end" fill="#111" ><tspan font-size="22.5">1000-1500 mm</tspan></text>
<line x1="990.0" y1="391.6" x2="1055.0" y2="391.6" stroke="#e07a55" stroke-width="2.6"/>
<line x1="990.0" y1="387.0" x2="990.0" y2="396.2" stroke="#e07a55" stroke-width="2.4"/>
<line x1="1055.0" y1="387.0" x2="1055.0" y2="396.2" stroke="#e07a55" stroke-width="2.4"/>
<circle cx="1017.5" cy="391.6" r="8.0" fill="#e0704a"/>
<text x="1057.9" y="399.7" font-size="19" fill="#e01818"><tspan class="cjk" dy="-0.5" fill="#e03a3a">（</tspan><tspan class="lat" dx="4.0" dy="0.5" font-size="22" letter-spacing="0.3" stroke="#e01818" stroke-width="0.3">55</tspan><tspan class="cjk" dx="3.1" dy="-0.5" fill="#e03a3a">）</tspan></text>
<text class="lbl" x="834.5" y="394.6" text-anchor="end" fill="#111" ><tspan font-size="22.5">&gt;1500 mm</tspan></text>
<line x1="976.0" y1="427.0" x2="1078.0" y2="427.0" stroke="#e06a7c" stroke-width="2.6"/>
<line x1="976.0" y1="422.4" x2="976.0" y2="431.6" stroke="#e06a7c" stroke-width="2.4"/>
<line x1="1078.0" y1="422.4" x2="1078.0" y2="431.6" stroke="#e06a7c" stroke-width="2.4"/>
<circle cx="1031.6" cy="427.0" r="8.0" fill="#e05f78"/>
<text x="1078.3" y="435.1" font-size="19" fill="#e01818"><tspan class="cjk" dy="-0.5" fill="#e03a3a">（</tspan><tspan class="lat" dx="4.0" dy="0.5" font-size="22" letter-spacing="0.3" stroke="#e01818" stroke-width="0.3">24</tspan><tspan class="cjk" dx="3.1" dy="-0.5" fill="#e03a3a">）</tspan></text>
<text class="lbl" x="833.0" y="431.5" text-anchor="end" fill="#111" ><tspan font-size="22.5">≤10 kg N ha</tspan><tspan font-size="18" dy="-9.5" dx="0.5">-</tspan><tspan font-size="18" dx="3.5">1</tspan></text>
<line x1="928.4" y1="462.0" x2="1055.0" y2="462.0" stroke="#e06a7c" stroke-width="2.6"/>
<line x1="928.4" y1="457.4" x2="928.4" y2="466.6" stroke="#e06a7c" stroke-width="2.4"/>
<line x1="1055.0" y1="457.4" x2="1055.0" y2="466.6" stroke="#e06a7c" stroke-width="2.4"/>
<circle cx="1000.0" cy="462.0" r="8.0" fill="#e05f78"/>
<text x="1056.4" y="470.0" font-size="19" fill="#e01818"><tspan class="cjk" dy="-0.5" fill="#e03a3a">（</tspan><tspan class="lat" dx="4.0" dy="0.5" font-size="22" letter-spacing="0.3" stroke="#e01818" stroke-width="0.3">70</tspan><tspan class="cjk" dx="3.1" dy="-0.5" fill="#e03a3a">）</tspan></text>
<text class="lbl" x="834.5" y="469.0" text-anchor="end" fill="#111" ><tspan font-size="22.5">10-30 kg N ha</tspan><tspan font-size="18" dy="-9.5" dx="0.5">-</tspan><tspan font-size="18" dx="3.5">1</tspan></text>
<line x1="922.4" y1="497.5" x2="1059.5" y2="497.5" stroke="#e06a7c" stroke-width="2.6"/>
<line x1="922.4" y1="492.9" x2="922.4" y2="502.1" stroke="#e06a7c" stroke-width="2.4"/>
<line x1="1059.5" y1="492.9" x2="1059.5" y2="502.1" stroke="#e06a7c" stroke-width="2.4"/>
<circle cx="993.0" cy="497.5" r="8.0" fill="#e05f78"/>
<text x="1060.9" y="504.0" font-size="19" fill="#e01818"><tspan class="cjk" dy="-0.5" fill="#e03a3a">（</tspan><tspan class="lat" dx="4.0" dy="0.5" font-size="22" letter-spacing="0.3" stroke="#e01818" stroke-width="0.3">69</tspan><tspan class="cjk" dx="3.1" dy="-0.5" fill="#e03a3a">）</tspan></text>
<text class="lbl" x="835.4" y="505.0" text-anchor="end" fill="#111" ><tspan font-size="22.5">30-50 kg N ha</tspan><tspan font-size="18" dy="-9.5" dx="0.5">-</tspan><tspan font-size="18" dx="3.5">1</tspan></text>
<line x1="987.5" y1="532.6" x2="1157.0" y2="532.6" stroke="#e06a7c" stroke-width="2.6"/>
<line x1="987.5" y1="528.0" x2="987.5" y2="537.2" stroke="#e06a7c" stroke-width="2.4"/>
<line x1="1157.0" y1="528.0" x2="1157.0" y2="537.2" stroke="#e06a7c" stroke-width="2.4"/>
<circle cx="1084.0" cy="532.6" r="8.0" fill="#e05f78"/>
<text x="1167.7" y="543.7" text-anchor="middle" font-size="22" fill="#e41c1c">*</text>
<text x="1170.4" y="539.5" font-size="19" fill="#e01818"><tspan class="cjk" dy="-0.5" fill="#e03a3a">（</tspan><tspan class="lat" dx="4.0" dy="0.5" font-size="22" letter-spacing="0.3" stroke="#e01818" stroke-width="0.3">40</tspan><tspan class="cjk" dx="3.1" dy="-0.5" fill="#e03a3a">）</tspan></text>
<text class="lbl" x="836.0" y="538.0" text-anchor="end" fill="#111" ><tspan font-size="22.5">&gt;50 kg N ha</tspan><tspan font-size="18" dy="-9.5" dx="0.5">-</tspan><tspan font-size="18" dx="3.5">1</tspan></text>
<line x1="999.5" y1="568.0" x2="1126.0" y2="568.0" stroke="#e07a55" stroke-width="2.6"/>
<line x1="999.5" y1="563.4" x2="999.5" y2="572.6" stroke="#e07a55" stroke-width="2.4"/>
<line x1="1126.0" y1="563.4" x2="1126.0" y2="572.6" stroke="#e07a55" stroke-width="2.4"/>
<circle cx="1071.5" cy="568.0" r="8.0" fill="#e0704a"/>
<text x="1126.9" y="578.2" font-size="19" fill="#e01818"><tspan class="cjk" dy="-0.5" fill="#e03a3a">（</tspan><tspan class="lat" dx="4.0" dy="0.5" font-size="22" letter-spacing="0.3" stroke="#e01818" stroke-width="0.3">83</tspan><tspan class="cjk" dx="3.1" dy="-0.5" fill="#e03a3a">）</tspan></text>
<text class="lbl" x="831.5" y="579.6" text-anchor="end" fill="#111" ><tspan font-size="18" dy="-9">15</tspan><tspan font-size="22.5" dy="9" dx="2.5">NH</tspan><tspan font-size="22.5" dy="4.5">4</tspan><tspan font-size="18" dy="-13.5" dx="0.5">+</tspan><tspan font-size="22.5" dy="9" dx="1.5">-N</tspan></text>
<line x1="1036.4" y1="603.0" x2="1134.5" y2="603.0" stroke="#e07a55" stroke-width="2.6"/>
<line x1="1036.4" y1="598.4" x2="1036.4" y2="607.6" stroke="#e07a55" stroke-width="2.4"/>
<line x1="1134.5" y1="598.4" x2="1134.5" y2="607.6" stroke="#e07a55" stroke-width="2.4"/>
<circle cx="1081.4" cy="603.0" r="8.0" fill="#e0704a"/>
<text x="1128.4" y="611.7" font-size="19" fill="#e01818"><tspan class="cjk" dy="-0.5" fill="#e03a3a">（</tspan><tspan class="lat" dx="4.0" dy="0.5" font-size="22" letter-spacing="0.3" stroke="#e01818" stroke-width="0.3">40</tspan><tspan class="cjk" dx="3.1" dy="-0.5" fill="#e03a3a">）</tspan></text>
<text class="lbl" x="829.0" y="615.2" text-anchor="end" fill="#111" ><tspan font-size="18" dy="-9">15</tspan><tspan font-size="22.5" dy="9" dx="2.5">NH</tspan><tspan font-size="22.5" dy="4.5">4</tspan><tspan font-size="18" dy="-13.5" dx="3.5">15</tspan><tspan font-size="22.5" dy="9" dx="2.5">NO</tspan><tspan font-size="22.5" dy="4.5">3</tspan></text>
<line x1="990.0" y1="638.5" x2="1058.6" y2="638.5" stroke="#e07a55" stroke-width="2.6"/>
<line x1="990.0" y1="633.9" x2="990.0" y2="643.1" stroke="#e07a55" stroke-width="2.4"/>
<line x1="1058.6" y1="633.9" x2="1058.6" y2="643.1" stroke="#e07a55" stroke-width="2.4"/>
<circle cx="1025.0" cy="638.5" r="8.0" fill="#e0704a"/>
<text x="1068.2" y="650.9" text-anchor="middle" font-size="22" fill="#e41c1c">*</text>
<text x="1066.9" y="647.1" font-size="19" fill="#e01818"><tspan class="cjk" dy="-0.5" fill="#e03a3a">（</tspan><tspan class="lat" dx="4.0" dy="0.5" font-size="22" letter-spacing="0.3" stroke="#e01818" stroke-width="0.3">79</tspan><tspan class="cjk" dx="3.1" dy="-0.5" fill="#e03a3a">）</tspan></text>
<text class="lbl" x="825.0" y="647.2" text-anchor="end" fill="#111" ><tspan font-size="18" dy="-9">15</tspan><tspan font-size="22.5" dy="9" dx="2.5">NO</tspan><tspan font-size="22.5" dy="4.5">3</tspan><tspan font-size="18" dy="-13.5" dx="2.5">-</tspan><tspan font-size="22.5" dy="9" dx="1.5">-N</tspan></text>
<line x1="984.0" y1="673.6" x2="1042.0" y2="673.6" stroke="#e06a7c" stroke-width="2.6"/>
<line x1="984.0" y1="669.0" x2="984.0" y2="678.2" stroke="#e06a7c" stroke-width="2.4"/>
<line x1="1042.0" y1="669.0" x2="1042.0" y2="678.2" stroke="#e06a7c" stroke-width="2.4"/>
<circle cx="1011.5" cy="673.6" r="8.0" fill="#e05f78"/>
<text x="1052.3" y="682.5" text-anchor="middle" font-size="22" fill="#e41c1c">*</text>
<text x="1056.4" y="681.1" font-size="19" fill="#e01818"><tspan class="cjk" dy="-0.5" fill="#e03a3a">（</tspan><tspan class="lat" dx="4.0" dy="0.5" font-size="22" letter-spacing="0.3" stroke="#e01818" stroke-width="0.3">55</tspan><tspan class="cjk" dx="3.1" dy="-0.5" fill="#e03a3a">）</tspan></text>
<text class="lbl" x="825.5" y="680.5" text-anchor="end" fill="#111" ><tspan font-size="22.5">&lt;4</tspan></text>
<line x1="1039.0" y1="709.0" x2="1116.5" y2="709.0" stroke="#e06a7c" stroke-width="2.6"/>
<line x1="1039.0" y1="704.4" x2="1039.0" y2="713.6" stroke="#e06a7c" stroke-width="2.4"/>
<line x1="1116.5" y1="704.4" x2="1116.5" y2="713.6" stroke="#e06a7c" stroke-width="2.4"/>
<circle cx="1076.0" cy="709.0" r="8.0" fill="#e05f78"/>
<text x="1116.4" y="717.9" font-size="19" fill="#e01818"><tspan class="cjk" dy="-0.5" fill="#e03a3a">（</tspan><tspan class="lat" dx="4.0" dy="0.5" font-size="22" letter-spacing="0.3" stroke="#e01818" stroke-width="0.3">80</tspan><tspan class="cjk" dx="3.1" dy="-0.5" fill="#e03a3a">）</tspan></text>
<text class="lbl" x="829.0" y="716.5" text-anchor="end" fill="#111" ><tspan font-size="22.5">4-6</tspan></text>
<line x1="1045.4" y1="744.0" x2="1129.0" y2="744.0" stroke="#e06a7c" stroke-width="2.6"/>
<line x1="1045.4" y1="739.4" x2="1045.4" y2="748.6" stroke="#e06a7c" stroke-width="2.4"/>
<line x1="1129.0" y1="739.4" x2="1129.0" y2="748.6" stroke="#e06a7c" stroke-width="2.4"/>
<circle cx="1088.6" cy="744.0" r="8.0" fill="#e05f78"/>
<text x="1117.9" y="751.8" font-size="19" fill="#e01818"><tspan class="cjk" dy="-0.5" fill="#e03a3a">（</tspan><tspan class="lat" dx="4.0" dy="0.5" font-size="22" letter-spacing="0.3" stroke="#e01818" stroke-width="0.3">67</tspan><tspan class="cjk" dx="3.1" dy="-0.5" fill="#e03a3a">）</tspan></text>
<text class="lbl" x="825.5" y="748.6" text-anchor="end" fill="#111" ><tspan font-size="22.5">&gt;6</tspan></text>
<line x1="984.0" y1="779.5" x2="1073.0" y2="779.5" stroke="#e07a55" stroke-width="2.6"/>
<line x1="984.0" y1="774.9" x2="984.0" y2="784.1" stroke="#e07a55" stroke-width="2.4"/>
<line x1="1073.0" y1="774.9" x2="1073.0" y2="784.1" stroke="#e07a55" stroke-width="2.4"/>
<circle cx="1025.6" cy="779.5" r="8.0" fill="#e0704a"/>
<text x="1072.9" y="788.2" font-size="19" fill="#e01818"><tspan class="cjk" dy="-0.5" fill="#e03a3a">（</tspan><tspan class="lat" dx="4.0" dy="0.5" font-size="22" letter-spacing="0.3" stroke="#e01818" stroke-width="0.3">29</tspan><tspan class="cjk" dx="3.1" dy="-0.5" fill="#e03a3a">）</tspan></text>
<text class="lbl" x="827.6" y="791.5" text-anchor="end" fill="#111" ><tspan font-size="22.5">&lt;20</tspan></text>
<line x1="1003.4" y1="814.6" x2="1073.0" y2="814.6" stroke="#e07a55" stroke-width="2.6"/>
<line x1="1003.4" y1="810.0" x2="1003.4" y2="819.2" stroke="#e07a55" stroke-width="2.4"/>
<line x1="1073.0" y1="810.0" x2="1073.0" y2="819.2" stroke="#e07a55" stroke-width="2.4"/>
<circle cx="1053.5" cy="814.6" r="8.0" fill="#e0704a"/>
<text x="1071.4" y="822.6" font-size="19" fill="#e01818"><tspan class="cjk" dy="-0.5" fill="#e03a3a">（</tspan><tspan class="lat" dx="4.0" dy="0.5" font-size="22" letter-spacing="0.3" stroke="#e01818" stroke-width="0.3">66</tspan><tspan class="cjk" dx="3.1" dy="-0.5" fill="#e03a3a">）</tspan></text>
<text class="lbl" x="829.0" y="823.6" text-anchor="end" fill="#111" ><tspan font-size="22.5">20-30</tspan></text>
<line x1="1038.5" y1="850.0" x2="1161.0" y2="850.0" stroke="#e07a55" stroke-width="2.6"/>
<line x1="1038.5" y1="845.4" x2="1038.5" y2="854.6" stroke="#e07a55" stroke-width="2.4"/>
<line x1="1161.0" y1="845.4" x2="1161.0" y2="854.6" stroke="#e07a55" stroke-width="2.4"/>
<circle cx="1078.0" cy="850.0" r="8.0" fill="#e0704a"/>
<text x="1170.6" y="860.0" text-anchor="middle" font-size="22" fill="#e41c1c">*</text>
<text x="1167.4" y="857.0" font-size="19" fill="#e01818"><tspan class="cjk" dy="-0.5" fill="#e03a3a">（</tspan><tspan class="lat" dx="4.0" dy="0.5" font-size="22" letter-spacing="0.3" stroke="#e01818" stroke-width="0.3">107</tspan><tspan class="cjk" dx="3.6" dy="-0.5" fill="#e03a3a">）</tspan></text>
<text class="lbl" x="825.5" y="855.0" text-anchor="end" fill="#111" ><tspan font-size="22.5">&gt;30</tspan></text>
<line x1="990.0" y1="885.0" x2="1107.0" y2="885.0" stroke="#e06a7c" stroke-width="2.6"/>
<line x1="990.0" y1="880.4" x2="990.0" y2="889.6" stroke="#e06a7c" stroke-width="2.4"/>
<line x1="1107.0" y1="880.4" x2="1107.0" y2="889.6" stroke="#e06a7c" stroke-width="2.4"/>
<circle cx="1054.0" cy="885.0" r="8.0" fill="#e05f78"/>
<text x="1110.4" y="895.9" font-size="19" fill="#e01818"><tspan class="cjk" dy="-0.5" fill="#e03a3a">（</tspan><tspan class="lat" dx="4.0" dy="0.5" font-size="22" letter-spacing="0.3" stroke="#e01818" stroke-width="0.3">82</tspan><tspan class="cjk" dx="3.1" dy="-0.5" fill="#e03a3a">）</tspan></text>
<text class="lbl" x="829.0" y="893.5" text-anchor="end" fill="#111" ><tspan font-size="22.5">≤5 m</tspan><tspan font-size="15" dy="-9">2</tspan></text>
<line x1="1004.0" y1="920.5" x2="1102.4" y2="920.5" stroke="#e06a7c" stroke-width="2.6"/>
<line x1="1004.0" y1="915.9" x2="1004.0" y2="925.1" stroke="#e06a7c" stroke-width="2.4"/>
<line x1="1102.4" y1="915.9" x2="1102.4" y2="925.1" stroke="#e06a7c" stroke-width="2.4"/>
<circle cx="1040.0" cy="920.5" r="8.0" fill="#e05f78"/>
<text x="1107.4" y="930.7" font-size="19" fill="#e01818"><tspan class="cjk" dy="-0.5" fill="#e03a3a">（</tspan><tspan class="lat" dx="4.0" dy="0.5" font-size="22" letter-spacing="0.3" stroke="#e01818" stroke-width="0.3">46</tspan><tspan class="cjk" dx="3.1" dy="-0.5" fill="#e03a3a">）</tspan></text>
<text class="lbl" x="828.5" y="925.0" text-anchor="end" fill="#111" ><tspan font-size="22.5">5-100 m</tspan><tspan font-size="15" dy="-9">2</tspan></text>
<line x1="1009.0" y1="956.0" x2="1139.6" y2="956.0" stroke="#e06a7c" stroke-width="2.6"/>
<line x1="1009.0" y1="951.4" x2="1009.0" y2="960.6" stroke="#e06a7c" stroke-width="2.4"/>
<line x1="1139.6" y1="951.4" x2="1139.6" y2="960.6" stroke="#e06a7c" stroke-width="2.4"/>
<circle cx="1078.4" cy="956.0" r="8.0" fill="#e05f78"/>
<text x="1140.9" y="965.0" font-size="19" fill="#e01818"><tspan class="cjk" dy="-0.5" fill="#e03a3a">（</tspan><tspan class="lat" dx="4.0" dy="0.5" font-size="22" letter-spacing="0.3" stroke="#e01818" stroke-width="0.3">74</tspan><tspan class="cjk" dx="3.1" dy="-0.5" fill="#e03a3a">）</tspan></text>
<text class="lbl" x="821.6" y="960.5" text-anchor="end" fill="#111" ><tspan font-size="22.5">&gt;100 m</tspan><tspan font-size="15" dy="-9">2</tspan></text>
<line x1="1037.0" y1="990.5" x2="1139.0" y2="990.5" stroke="#e07a55" stroke-width="2.6"/>
<line x1="1037.0" y1="985.9" x2="1037.0" y2="995.1" stroke="#e07a55" stroke-width="2.4"/>
<line x1="1139.0" y1="985.9" x2="1139.0" y2="995.1" stroke="#e07a55" stroke-width="2.4"/>
<circle cx="1092.5" cy="990.5" r="8.0" fill="#e0704a"/>
<text x="1141.9" y="1002.3" font-size="19" fill="#e01818"><tspan class="cjk" dy="-0.5" fill="#e03a3a">（</tspan><tspan class="lat" dx="4.0" dy="0.5" font-size="22" letter-spacing="0.3" stroke="#e01818" stroke-width="0.3">112</tspan><tspan class="cjk" dx="3.6" dy="-0.5" fill="#e03a3a">）</tspan></text>
<text class="lbl" x="824.6" y="996.5" text-anchor="end" fill="#111" ><tspan font-size="22.5">≤1 yr</tspan></text>
<line x1="999.5" y1="1026.0" x2="1106.6" y2="1026.0" stroke="#e07a55" stroke-width="2.6"/>
<line x1="999.5" y1="1021.4" x2="999.5" y2="1030.6" stroke="#e07a55" stroke-width="2.4"/>
<line x1="1106.6" y1="1021.4" x2="1106.6" y2="1030.6" stroke="#e07a55" stroke-width="2.4"/>
<circle cx="1060.4" cy="1026.0" r="8.0" fill="#e0704a"/>
<text x="1105.9" y="1035.0" font-size="19" fill="#e01818"><tspan class="cjk" dy="-0.5" fill="#e03a3a">（</tspan><tspan class="lat" dx="4.0" dy="0.5" font-size="22" letter-spacing="0.3" stroke="#e01818" stroke-width="0.3">70</tspan><tspan class="cjk" dx="3.1" dy="-0.5" fill="#e03a3a">）</tspan></text>
<text class="lbl" x="824.0" y="1032.5" text-anchor="end" fill="#111" ><tspan font-size="22.5">1-5 yr</tspan></text>
<line x1="994.4" y1="1061.0" x2="1079.6" y2="1061.0" stroke="#e07a55" stroke-width="2.6"/>
<line x1="994.4" y1="1056.4" x2="994.4" y2="1065.6" stroke="#e07a55" stroke-width="2.4"/>
<line x1="1079.6" y1="1056.4" x2="1079.6" y2="1065.6" stroke="#e07a55" stroke-width="2.4"/>
<circle cx="1032.5" cy="1061.0" r="8.0" fill="#e0704a"/>
<text x="1088.8" y="1070.6" text-anchor="middle" font-size="22" fill="#e41c1c">*</text>
<text x="1095.4" y="1068.5" font-size="19" fill="#e01818"><tspan class="cjk" dy="-0.5" fill="#e03a3a">（</tspan><tspan class="lat" dx="4.0" dy="0.5" font-size="22" letter-spacing="0.3" stroke="#e01818" stroke-width="0.3">20</tspan><tspan class="cjk" dx="3.1" dy="-0.5" fill="#e03a3a">）</tspan></text>
<text class="lbl" x="822.5" y="1067.0" text-anchor="end" fill="#111" ><tspan font-size="22.5">&gt;5 yr</tspan></text>
<text x="1258.0" y="115.5" text-anchor="end" font-size="22.5" font-weight="bold" fill="#111">FT</text>
<text x="1259.0" y="225.0" text-anchor="end" font-size="22.5" font-weight="bold" fill="#111">MAT</text>
<text x="1259.0" y="331.6" text-anchor="end" font-size="22.5" font-weight="bold" fill="#111">MAP</text>
<text x="1256.0" y="437.0" text-anchor="end" font-size="22.5" font-weight="bold" fill="#111">NR</text>
<text x="1253.6" y="579.7" text-anchor="end" font-size="22.5" font-weight="bold" fill="#111">NF</text>
<text x="1255.5" y="693.5" text-anchor="end" font-size="22.5" font-weight="bold" fill="#111">pH</text>
<text x="1257.5" y="800.0" text-anchor="end" font-size="22.5" font-weight="bold" fill="#111">C/N</text>
<text x="1253.0" y="904.0" text-anchor="end" font-size="22.5" font-weight="bold" fill="#111">PS</text>
<text x="1257.0" y="1005.4" text-anchor="end" font-size="22.5" font-weight="bold" fill="#111">DS</text>
<rect x="1566.2" y="99.2" width="413.1" height="107.3" fill="#e3fce2"/>
<rect x="1566.2" y="206.5" width="413.1" height="107.5" fill="#e6f7f6"/>
<rect x="1566.2" y="314.0" width="413.1" height="108.4" fill="#e3fce2"/>
<rect x="1566.2" y="422.4" width="413.1" height="141.0" fill="#e6f7f6"/>
<rect x="1566.2" y="563.4" width="413.1" height="108.1" fill="#e3fce2"/>
<rect x="1566.2" y="671.5" width="413.1" height="93.0" fill="#e6f7f6"/>
<rect x="1566.2" y="764.5" width="413.1" height="107.1" fill="#e3fce2"/>
<rect x="1566.2" y="871.6" width="413.1" height="109.9" fill="#e6f7f6"/>
<rect x="1566.2" y="981.5" width="413.1" height="104.1" fill="#e3fce2"/>
<line x1="1566.2" y1="99.2" x2="1566.2" y2="206.5" stroke="#6a9a6a" stroke-width="2.2"/>
<line x1="1566.2" y1="206.5" x2="1566.2" y2="314.0" stroke="#1c241c" stroke-width="2.2"/>
<line x1="1566.2" y1="314.0" x2="1566.2" y2="422.4" stroke="#6a9a6a" stroke-width="2.2"/>
<line x1="1566.2" y1="422.4" x2="1566.2" y2="563.4" stroke="#1c241c" stroke-width="2.2"/>
<line x1="1566.2" y1="563.4" x2="1566.2" y2="671.5" stroke="#6a9a6a" stroke-width="2.2"/>
<line x1="1566.2" y1="671.5" x2="1566.2" y2="764.5" stroke="#1c241c" stroke-width="2.2"/>
<line x1="1566.2" y1="764.5" x2="1566.2" y2="871.6" stroke="#6a9a6a" stroke-width="2.2"/>
<line x1="1566.2" y1="871.6" x2="1566.2" y2="981.5" stroke="#1c241c" stroke-width="2.2"/>
<line x1="1566.2" y1="981.5" x2="1566.2" y2="1085.6" stroke="#6a9a6a" stroke-width="2.2"/>
<line x1="1979.3" y1="99.2" x2="1979.3" y2="1086.6" stroke="#2b2b2b" stroke-width="2.2"/>
<line x1="1565.2" y1="1085.6" x2="1980.3" y2="1085.6" stroke="#3d5d3d" stroke-width="2.2"/>
<line x1="1565.2" y1="99.2" x2="1980.3" y2="99.2" stroke="#5e9a55" stroke-width="2.2"/>
<line x1="1566.4" y1="91.8" x2="1566.4" y2="99.2" stroke="#2b2b2b" stroke-width="2"/>
<text class="lbl" x="1567.5" y="86.0" text-anchor="middle" font-size="25.5" fill="#111">0</text>
<line x1="1648.6" y1="91.8" x2="1648.6" y2="99.2" stroke="#2b2b2b" stroke-width="2"/>
<text class="lbl" x="1650.3" y="86.0" text-anchor="middle" font-size="25.5" fill="#111">8</text>
<line x1="1730.6" y1="91.8" x2="1730.6" y2="99.2" stroke="#2b2b2b" stroke-width="2"/>
<text class="lbl" x="1733.5" y="86.0" text-anchor="middle" font-size="25.5" fill="#111">16</text>
<line x1="1813.7" y1="91.8" x2="1813.7" y2="99.2" stroke="#2b2b2b" stroke-width="2"/>
<text class="lbl" x="1815.4" y="86.0" text-anchor="middle" font-size="25.5" fill="#111">24</text>
<line x1="1896.6" y1="91.8" x2="1896.6" y2="99.2" stroke="#2b2b2b" stroke-width="2"/>
<text class="lbl" x="1897.6" y="86.0" text-anchor="middle" font-size="25.5" fill="#111">32</text>
<line x1="1979.0" y1="91.8" x2="1979.0" y2="99.2" stroke="#2b2b2b" stroke-width="2"/>
<text class="lbl" x="1980.3" y="86.0" text-anchor="middle" font-size="25.5" fill="#111">40</text>
<text class="lbl" x="1777.0" y="25.2" text-anchor="middle" font-size="31" fill="#111">(c)</text>
<line x1="1661.5" y1="116.6" x2="1723.0" y2="116.6" stroke="#5ae45a" stroke-width="2.6"/>
<line x1="1661.5" y1="112.0" x2="1661.5" y2="121.2" stroke="#5ae45a" stroke-width="2.4"/>
<line x1="1723.0" y1="112.0" x2="1723.0" y2="121.2" stroke="#5ae45a" stroke-width="2.4"/>
<circle cx="1697.5" cy="116.6" r="8.4" fill="#40ec40"/>
<text x="1725.9" y="123.9" font-size="19" fill="#30d830"><tspan class="cjk" dy="-0.5" fill="#5ad85a">（</tspan><tspan class="lat" dx="4.0" dy="0.5" font-size="22" letter-spacing="0.3" stroke="#30d830" stroke-width="0.3">26</tspan><tspan class="cjk" dx="3.1" dy="-0.5" fill="#5ad85a">）</tspan></text>
<text class="lbl" x="1552.0" y="126.5" text-anchor="end" fill="#111" ><tspan font-size="22.5">TCF</tspan></text>
<line x1="1657.0" y1="152.0" x2="1743.4" y2="152.0" stroke="#5ae45a" stroke-width="2.6"/>
<line x1="1657.0" y1="147.4" x2="1657.0" y2="156.6" stroke="#5ae45a" stroke-width="2.4"/>
<line x1="1743.4" y1="147.4" x2="1743.4" y2="156.6" stroke="#5ae45a" stroke-width="2.4"/>
<circle cx="1708.0" cy="152.0" r="8.4" fill="#40ec40"/>
<text x="1746.3" y="163.2" font-size="19" fill="#30d830"><tspan class="cjk" dy="-0.5" fill="#5ad85a">（</tspan><tspan class="lat" dx="4.0" dy="0.5" font-size="22" letter-spacing="0.3" stroke="#30d830" stroke-width="0.3">15</tspan><tspan class="cjk" dx="3.1" dy="-0.5" fill="#5ad85a">）</tspan></text>
<text class="lbl" x="1552.0" y="162.5" text-anchor="end" fill="#111" ><tspan font-size="22.5">TBF</tspan></text>
<line x1="1670.0" y1="187.4" x2="1837.0" y2="187.4" stroke="#5ae45a" stroke-width="2.6"/>
<line x1="1670.0" y1="182.8" x2="1670.0" y2="192.0" stroke="#5ae45a" stroke-width="2.4"/>
<line x1="1837.0" y1="182.8" x2="1837.0" y2="192.0" stroke="#5ae45a" stroke-width="2.4"/>
<circle cx="1750.0" cy="187.4" r="8.4" fill="#40ec40"/>
<text x="1851.2" y="196.7" text-anchor="middle" font-size="22" fill="#2fbf2f">*</text>
<text x="1857.9" y="192.9" font-size="19" fill="#30d830"><tspan class="cjk" dy="-0.5" fill="#5ad85a">（</tspan><tspan class="lat" dx="4.0" dy="0.5" font-size="22" letter-spacing="0.3" stroke="#30d830" stroke-width="0.3">5</tspan><tspan class="cjk" dx="5.6" dy="-0.5" fill="#5ad85a">）</tspan></text>
<text class="lbl" x="1549.5" y="197.0" text-anchor="end" fill="#111" ><tspan font-size="22.5">TSF</tspan></text>
<line x1="1619.5" y1="222.5" x2="1754.5" y2="222.5" stroke="#5cdc88" stroke-width="2.6"/>
<line x1="1619.5" y1="217.9" x2="1619.5" y2="227.1" stroke="#5cdc88" stroke-width="2.4"/>
<line x1="1754.5" y1="217.9" x2="1754.5" y2="227.1" stroke="#5cdc88" stroke-width="2.4"/>
<circle cx="1683.4" cy="222.5" r="8.4" fill="#45dc65"/>
<text x="1759.5" y="232.1" font-size="19" fill="#30d830"><tspan class="cjk" dy="-0.5" fill="#5ad85a">（</tspan><tspan class="lat" dx="4.0" dy="0.5" font-size="22" letter-spacing="0.3" stroke="#30d830" stroke-width="0.3">10</tspan><tspan class="cjk" dx="3.1" dy="-0.5" fill="#5ad85a">）</tspan></text>
<text class="lbl" x="1547.5" y="229.4" text-anchor="end" fill="#111" ><tspan font-size="22.5">≤6°C</tspan></text>
<line x1="1618.6" y1="258.0" x2="1734.4" y2="258.0" stroke="#5cdc88" stroke-width="2.6"/>
<line x1="1618.6" y1="253.4" x2="1618.6" y2="262.6" stroke="#5cdc88" stroke-width="2.4"/>
<line x1="1734.4" y1="253.4" x2="1734.4" y2="262.6" stroke="#5cdc88" stroke-width="2.4"/>
<circle cx="1671.0" cy="258.0" r="8.4" fill="#45dc65"/>
<text x="1737.3" y="265.0" font-size="19" fill="#30d830"><tspan class="cjk" dy="-0.5" fill="#5ad85a">（</tspan><tspan class="lat" dx="4.0" dy="0.5" font-size="22" letter-spacing="0.3" stroke="#30d830" stroke-width="0.3">24</tspan><tspan class="cjk" dx="3.1" dy="-0.5" fill="#5ad85a">）</tspan></text>
<text class="lbl" x="1547.5" y="262.4" text-anchor="end" fill="#111" ><tspan font-size="22.5">6°C-10°C</tspan></text>
<line x1="1697.0" y1="293.0" x2="1828.0" y2="293.0" stroke="#5cdc88" stroke-width="2.6"/>
<line x1="1697.0" y1="288.4" x2="1697.0" y2="297.6" stroke="#5cdc88" stroke-width="2.4"/>
<line x1="1828.0" y1="288.4" x2="1828.0" y2="297.6" stroke="#5cdc88" stroke-width="2.4"/>
<circle cx="1760.0" cy="293.0" r="8.4" fill="#45dc65"/>
<text x="1838.7" y="300.1" text-anchor="middle" font-size="22" fill="#2fbf2f">*</text>
<text x="1836.9" y="299.1" font-size="19" fill="#30d830"><tspan class="cjk" dy="-0.5" fill="#5ad85a">（</tspan><tspan class="lat" dx="4.0" dy="0.5" font-size="22" letter-spacing="0.3" stroke="#30d830" stroke-width="0.3">12</tspan><tspan class="cjk" dx="3.1" dy="-0.5" fill="#5ad85a">）</tspan></text>
<text class="lbl" x="1549.0" y="299.6" text-anchor="end" fill="#111" ><tspan font-size="22.5">&gt;10°C</tspan></text>
<line x1="1613.5" y1="328.4" x2="1724.0" y2="328.4" stroke="#5ae45a" stroke-width="2.6"/>
<line x1="1613.5" y1="323.8" x2="1613.5" y2="333.0" stroke="#5ae45a" stroke-width="2.4"/>
<line x1="1724.0" y1="323.8" x2="1724.0" y2="333.0" stroke="#5ae45a" stroke-width="2.4"/>
<circle cx="1678.6" cy="328.4" r="8.4" fill="#40ec40"/>
<text x="1725.9" y="335.8" font-size="19" fill="#30d830"><tspan class="cjk" dy="-0.5" fill="#5ad85a">（</tspan><tspan class="lat" dx="4.0" dy="0.5" font-size="22" letter-spacing="0.3" stroke="#30d830" stroke-width="0.3">13</tspan><tspan class="cjk" dx="3.1" dy="-0.5" fill="#5ad85a">）</tspan></text>
<text class="lbl" x="1546.5" y="335.0" text-anchor="end" fill="#111" ><tspan font-size="22.5">≤1000 mm</tspan></text>
<line x1="1670.5" y1="363.0" x2="1775.5" y2="363.0" stroke="#5ae45a" stroke-width="2.6"/>
<line x1="1670.5" y1="358.4" x2="1670.5" y2="367.6" stroke="#5ae45a" stroke-width="2.4"/>
<line x1="1775.5" y1="358.4" x2="1775.5" y2="367.6" stroke="#5ae45a" stroke-width="2.4"/>
<circle cx="1733.5" cy="363.0" r="8.4" fill="#40ec40"/>
<text x="1775.4" y="369.4" font-size="19" fill="#30d830"><tspan class="cjk" dy="-0.5" fill="#5ad85a">（</tspan><tspan class="lat" dx="4.0" dy="0.5" font-size="22" letter-spacing="0.3" stroke="#30d830" stroke-width="0.3">20</tspan><tspan class="cjk" dx="3.1" dy="-0.5" fill="#5ad85a">）</tspan></text>
<text class="lbl" x="1546.5" y="369.5" text-anchor="end" fill="#111" ><tspan font-size="22.5">1000-1500 mm</tspan></text>
<line x1="1714.0" y1="398.4" x2="1897.6" y2="398.4" stroke="#5ae45a" stroke-width="2.6"/>
<line x1="1714.0" y1="393.8" x2="1714.0" y2="403.0" stroke="#5ae45a" stroke-width="2.4"/>
<line x1="1897.6" y1="393.8" x2="1897.6" y2="403.0" stroke="#5ae45a" stroke-width="2.4"/>
<circle cx="1797.0" cy="398.4" r="8.4" fill="#40ec40"/>
<text x="1909.5" y="409.6" text-anchor="middle" font-size="22" fill="#2fbf2f">*</text>
<text x="1914.9" y="406.7" font-size="19" fill="#30d830"><tspan class="cjk" dy="-0.5" fill="#5ad85a">（</tspan><tspan class="lat" dx="4.0" dy="0.5" font-size="22" letter-spacing="0.3" stroke="#30d830" stroke-width="0.3">13</tspan><tspan class="cjk" dx="3.1" dy="-0.5" fill="#5ad85a">）</tspan></text>
<text class="lbl" x="1547.0" y="403.5" text-anchor="end" fill="#111" ><tspan font-size="22.5">&gt;1500 mm</tspan></text>
<line x1="1638.4" y1="434.0" x2="1746.4" y2="434.0" stroke="#5cdc88" stroke-width="2.6"/>
<line x1="1638.4" y1="429.4" x2="1638.4" y2="438.6" stroke="#5cdc88" stroke-width="2.4"/>
<line x1="1746.4" y1="429.4" x2="1746.4" y2="438.6" stroke="#5cdc88" stroke-width="2.4"/>
<circle cx="1681.0" cy="434.0" r="8.4" fill="#45dc65"/>
<text x="1748.4" y="445.9" font-size="19" fill="#30d830"><tspan class="cjk" dy="-0.5" fill="#5ad85a">（</tspan><tspan class="lat" dx="4.0" dy="0.5" font-size="22" letter-spacing="0.3" stroke="#30d830" stroke-width="0.3">5</tspan><tspan class="cjk" dx="5.6" dy="-0.5" fill="#5ad85a">）</tspan></text>
<text class="lbl" x="1545.4" y="439.5" text-anchor="end" fill="#111" ><tspan font-size="22.5">≤10 kg N ha</tspan><tspan font-size="18" dy="-9.5" dx="0.5">-</tspan><tspan font-size="18" dx="3.5">1</tspan></text>
<line x1="1670.0" y1="469.5" x2="1744.0" y2="469.5" stroke="#5cdc88" stroke-width="2.6"/>
<line x1="1670.0" y1="464.9" x2="1670.0" y2="474.1" stroke="#5cdc88" stroke-width="2.4"/>
<line x1="1744.0" y1="464.9" x2="1744.0" y2="474.1" stroke="#5cdc88" stroke-width="2.4"/>
<circle cx="1702.0" cy="469.5" r="8.4" fill="#45dc65"/>
<text x="1754.4" y="477.5" font-size="19" fill="#30d830"><tspan class="cjk" dy="-0.5" fill="#5ad85a">（</tspan><tspan class="lat" dx="4.0" dy="0.5" font-size="22" letter-spacing="0.3" stroke="#30d830" stroke-width="0.3">16</tspan><tspan class="cjk" dx="3.1" dy="-0.5" fill="#5ad85a">）</tspan></text>
<text class="lbl" x="1545.4" y="477.0" text-anchor="end" fill="#111" ><tspan font-size="22.5">10-30 kg N ha</tspan><tspan font-size="18" dy="-9.5" dx="0.5">-</tspan><tspan font-size="18" dx="3.5">1</tspan></text>
<line x1="1674.0" y1="504.6" x2="1743.0" y2="504.6" stroke="#5cdc88" stroke-width="2.6"/>
<line x1="1674.0" y1="500.0" x2="1674.0" y2="509.2" stroke="#5cdc88" stroke-width="2.4"/>
<line x1="1743.0" y1="500.0" x2="1743.0" y2="509.2" stroke="#5cdc88" stroke-width="2.4"/>
<circle cx="1703.0" cy="504.6" r="8.4" fill="#45dc65"/>
<text x="1748.4" y="508.2" font-size="19" fill="#30d830"><tspan class="cjk" dy="-0.5" fill="#5ad85a">（</tspan><tspan class="lat" dx="4.0" dy="0.5" font-size="22" letter-spacing="0.3" stroke="#30d830" stroke-width="0.3">16</tspan><tspan class="cjk" dx="3.1" dy="-0.5" fill="#5ad85a">）</tspan></text>
<text class="lbl" x="1547.5" y="513.0" text-anchor="end" fill="#111" ><tspan font-size="22.5">30-50 kg N ha</tspan><tspan font-size="18" dy="-9.5" dx="0.5">-</tspan><tspan font-size="18" dx="3.5">1</tspan></text>
<line x1="1692.4" y1="539.4" x2="1805.0" y2="539.4" stroke="#5cdc88" stroke-width="2.6"/>
<line x1="1692.4" y1="534.8" x2="1692.4" y2="544.0" stroke="#5cdc88" stroke-width="2.4"/>
<line x1="1805.0" y1="534.8" x2="1805.0" y2="544.0" stroke="#5cdc88" stroke-width="2.4"/>
<circle cx="1759.0" cy="539.4" r="8.4" fill="#45dc65"/>
<text x="1822.4" y="547.8" text-anchor="middle" font-size="22" fill="#2fbf2f">*</text>
<text x="1826.9" y="546.8" font-size="19" fill="#30d830"><tspan class="cjk" dy="-0.5" fill="#5ad85a">（</tspan><tspan class="lat" dx="4.0" dy="0.5" font-size="22" letter-spacing="0.3" stroke="#30d830" stroke-width="0.3">9</tspan><tspan class="cjk" dx="5.6" dy="-0.5" fill="#5ad85a">）</tspan></text>
<text class="lbl" x="1548.4" y="546.0" text-anchor="end" fill="#111" ><tspan font-size="22.5">&gt;50 kg N ha</tspan><tspan font-size="18" dy="-9.5" dx="0.5">-</tspan><tspan font-size="18" dx="3.5">1</tspan></text>
<line x1="1654.0" y1="575.4" x2="1794.0" y2="575.4" stroke="#5ae45a" stroke-width="2.6"/>
<line x1="1654.0" y1="570.8" x2="1654.0" y2="580.0" stroke="#5ae45a" stroke-width="2.4"/>
<line x1="1794.0" y1="570.8" x2="1794.0" y2="580.0" stroke="#5ae45a" stroke-width="2.4"/>
<circle cx="1704.4" cy="575.4" r="8.4" fill="#40ec40"/>
<text x="1803.9" y="585.1" font-size="19" fill="#30d830"><tspan class="cjk" dy="-0.5" fill="#5ad85a">（</tspan><tspan class="lat" dx="4.0" dy="0.5" font-size="22" letter-spacing="0.3" stroke="#30d830" stroke-width="0.3">19</tspan><tspan class="cjk" dx="3.1" dy="-0.5" fill="#5ad85a">）</tspan></text>
<text class="lbl" x="1544.0" y="586.5" text-anchor="end" fill="#111" ><tspan font-size="18" dy="-9">15</tspan><tspan font-size="22.5" dy="9" dx="2.5">NH</tspan><tspan font-size="22.5" dy="4.5">4</tspan><tspan font-size="18" dy="-13.5" dx="0.5">+</tspan><tspan font-size="22.5" dy="9" dx="1.5">-N</tspan></text>
<line x1="1651.0" y1="610.5" x2="1794.0" y2="610.5" stroke="#5ae45a" stroke-width="2.6"/>
<line x1="1651.0" y1="605.9" x2="1651.0" y2="615.1" stroke="#5ae45a" stroke-width="2.4"/>
<line x1="1794.0" y1="605.9" x2="1794.0" y2="615.1" stroke="#5ae45a" stroke-width="2.4"/>
<circle cx="1711.0" cy="610.5" r="8.4" fill="#40ec40"/>
<text x="1803.3" y="617.6" font-size="19" fill="#30d830"><tspan class="cjk" dy="-0.5" fill="#5ad85a">（</tspan><tspan class="lat" dx="4.0" dy="0.5" font-size="22" letter-spacing="0.3" stroke="#30d830" stroke-width="0.3">9</tspan><tspan class="cjk" dx="5.6" dy="-0.5" fill="#5ad85a">）</tspan></text>
<text class="lbl" x="1542.0" y="622.5" text-anchor="end" fill="#111" ><tspan font-size="18" dy="-9">15</tspan><tspan font-size="22.5" dy="9" dx="2.5">NH</tspan><tspan font-size="22.5" dy="4.5">4</tspan><tspan font-size="18" dy="-13.5" dx="3.5">15</tspan><tspan font-size="22.5" dy="9" dx="2.5">NO</tspan><tspan font-size="22.5" dy="4.5">3</tspan></text>
<line x1="1723.0" y1="645.0" x2="1876.6" y2="645.0" stroke="#5ae45a" stroke-width="2.6"/>
<line x1="1723.0" y1="640.4" x2="1723.0" y2="649.6" stroke="#5ae45a" stroke-width="2.4"/>
<line x1="1876.6" y1="640.4" x2="1876.6" y2="649.6" stroke="#5ae45a" stroke-width="2.4"/>
<circle cx="1793.5" cy="645.0" r="8.4" fill="#40ec40"/>
<text x="1894.2" y="654.1" text-anchor="middle" font-size="22" fill="#2fbf2f">*</text>
<text x="1901.4" y="652.1" font-size="19" fill="#30d830"><tspan class="cjk" dy="-0.5" fill="#5ad85a">（</tspan><tspan class="lat" dx="4.0" dy="0.5" font-size="22" letter-spacing="0.3" stroke="#30d830" stroke-width="0.3">18</tspan><tspan class="cjk" dx="3.1" dy="-0.5" fill="#5ad85a">）</tspan></text>
<text class="lbl" x="1539.0" y="654.0" text-anchor="end" fill="#111" ><tspan font-size="18" dy="-9">15</tspan><tspan font-size="22.5" dy="9" dx="2.5">NO</tspan><tspan font-size="22.5" dy="4.5">3</tspan><tspan font-size="18" dy="-13.5" dx="2.5">-</tspan><tspan font-size="22.5" dy="9" dx="1.5">-N</tspan></text>
<line x1="1641.4" y1="681.4" x2="1702.0" y2="681.4" stroke="#5cdc88" stroke-width="2.6"/>
<line x1="1641.4" y1="676.8" x2="1641.4" y2="686.0" stroke="#5cdc88" stroke-width="2.4"/>
<line x1="1702.0" y1="676.8" x2="1702.0" y2="686.0" stroke="#5cdc88" stroke-width="2.4"/>
<circle cx="1673.5" cy="681.4" r="8.4" fill="#45dc65"/>
<text x="1707.9" y="689.4" font-size="19" fill="#30d830"><tspan class="cjk" dy="-0.5" fill="#5ad85a">（</tspan><tspan class="lat" dx="4.0" dy="0.5" font-size="22" letter-spacing="0.3" stroke="#30d830" stroke-width="0.3">13</tspan><tspan class="cjk" dx="3.1" dy="-0.5" fill="#5ad85a">）</tspan></text>
<text class="lbl" x="1539.0" y="689.5" text-anchor="end" fill="#111" ><tspan font-size="22.5">≤4</tspan></text>
<line x1="1653.4" y1="716.5" x2="1712.5" y2="716.5" stroke="#5cdc88" stroke-width="2.6"/>
<line x1="1653.4" y1="711.9" x2="1653.4" y2="721.1" stroke="#5cdc88" stroke-width="2.4"/>
<line x1="1712.5" y1="711.9" x2="1712.5" y2="721.1" stroke="#5cdc88" stroke-width="2.4"/>
<circle cx="1682.5" cy="716.5" r="8.4" fill="#45dc65"/>
<text x="1715.4" y="722.6" font-size="19" fill="#30d830"><tspan class="cjk" dy="-0.5" fill="#5ad85a">（</tspan><tspan class="lat" dx="4.0" dy="0.5" font-size="22" letter-spacing="0.3" stroke="#30d830" stroke-width="0.3">18</tspan><tspan class="cjk" dx="3.1" dy="-0.5" fill="#5ad85a">）</tspan></text>
<text class="lbl" x="1542.0" y="724.0" text-anchor="end" fill="#111" ><tspan font-size="22.5">4-6</tspan></text>
<line x1="1692.4" y1="751.6" x2="1775.0" y2="751.6" stroke="#5cdc88" stroke-width="2.6"/>
<line x1="1692.4" y1="747.0" x2="1692.4" y2="756.2" stroke="#5cdc88" stroke-width="2.4"/>
<line x1="1775.0" y1="747.0" x2="1775.0" y2="756.2" stroke="#5cdc88" stroke-width="2.4"/>
<circle cx="1734.0" cy="751.6" r="8.4" fill="#45dc65"/>
<text x="1786.0" y="761.0" text-anchor="middle" font-size="22" fill="#2fbf2f">*</text>
<text x="1788.3" y="758.3" font-size="19" fill="#30d830"><tspan class="cjk" dy="-0.5" fill="#5ad85a">（</tspan><tspan class="lat" dx="4.0" dy="0.5" font-size="22" letter-spacing="0.3" stroke="#30d830" stroke-width="0.3">15</tspan><tspan class="cjk" dx="3.1" dy="-0.5" fill="#5ad85a">）</tspan></text>
<text class="lbl" x="1538.0" y="756.4" text-anchor="end" fill="#111" ><tspan font-size="22.5">&gt;6</tspan></text>
<line x1="1648.0" y1="787.0" x2="1721.5" y2="787.0" stroke="#5ae45a" stroke-width="2.6"/>
<line x1="1648.0" y1="782.4" x2="1648.0" y2="791.6" stroke="#5ae45a" stroke-width="2.4"/>
<line x1="1721.5" y1="782.4" x2="1721.5" y2="791.6" stroke="#5ae45a" stroke-width="2.4"/>
<circle cx="1673.5" cy="787.0" r="8.4" fill="#40ec40"/>
<text x="1734.4" y="796.1" text-anchor="middle" font-size="22" fill="#2fbf2f">*</text>
<text x="1743.9" y="791.3" font-size="19" fill="#30d830"><tspan class="cjk" dy="-0.5" fill="#5ad85a">（</tspan><tspan class="lat" dx="4.0" dy="0.5" font-size="22" letter-spacing="0.3" stroke="#30d830" stroke-width="0.3">7</tspan><tspan class="cjk" dx="5.6" dy="-0.5" fill="#5ad85a">）</tspan></text>
<text class="lbl" x="1540.5" y="800.5" text-anchor="end" fill="#111" ><tspan font-size="22.5">≤20</tspan></text>
<line x1="1724.5" y1="822.0" x2="1772.5" y2="822.0" stroke="#5ae45a" stroke-width="2.6"/>
<line x1="1724.5" y1="817.4" x2="1724.5" y2="826.6" stroke="#5ae45a" stroke-width="2.4"/>
<line x1="1772.5" y1="817.4" x2="1772.5" y2="826.6" stroke="#5ae45a" stroke-width="2.4"/>
<circle cx="1745.5" cy="822.0" r="8.4" fill="#40ec40"/>
<text x="1778.4" y="830.0" font-size="19" fill="#30d830"><tspan class="cjk" dy="-0.5" fill="#5ad85a">（</tspan><tspan class="lat" dx="4.0" dy="0.5" font-size="22" letter-spacing="0.3" stroke="#30d830" stroke-width="0.3">15</tspan><tspan class="cjk" dx="3.1" dy="-0.5" fill="#5ad85a">）</tspan></text>
<text class="lbl" x="1542.0" y="832.0" text-anchor="end" fill="#111" ><tspan font-size="22.5">20-30</tspan></text>
<line x1="1661.5" y1="857.0" x2="1786.6" y2="857.0" stroke="#5ae45a" stroke-width="2.6"/>
<line x1="1661.5" y1="852.4" x2="1661.5" y2="861.6" stroke="#5ae45a" stroke-width="2.4"/>
<line x1="1786.6" y1="852.4" x2="1786.6" y2="861.6" stroke="#5ae45a" stroke-width="2.4"/>
<circle cx="1714.0" cy="857.0" r="8.4" fill="#40ec40"/>
<text x="1779.9" y="863.1" font-size="19" fill="#30d830"><tspan class="cjk" dy="-0.5" fill="#5ad85a">（</tspan><tspan class="lat" dx="4.0" dy="0.5" font-size="22" letter-spacing="0.3" stroke="#30d830" stroke-width="0.3">24</tspan><tspan class="cjk" dx="3.1" dy="-0.5" fill="#5ad85a">）</tspan></text>
<text class="lbl" x="1538.0" y="863.5" text-anchor="end" fill="#111" ><tspan font-size="22.5">&gt;30</tspan></text>
<line x1="1640.5" y1="892.0" x2="1711.6" y2="892.0" stroke="#5cdc88" stroke-width="2.6"/>
<line x1="1640.5" y1="887.4" x2="1640.5" y2="896.6" stroke="#5cdc88" stroke-width="2.4"/>
<line x1="1711.6" y1="887.4" x2="1711.6" y2="896.6" stroke="#5cdc88" stroke-width="2.4"/>
<circle cx="1675.6" cy="892.0" r="8.4" fill="#45dc65"/>
<text x="1716.9" y="901.4" font-size="19" fill="#30d830"><tspan class="cjk" dy="-0.5" fill="#5ad85a">（</tspan><tspan class="lat" dx="4.0" dy="0.5" font-size="22" letter-spacing="0.3" stroke="#30d830" stroke-width="0.3">19</tspan><tspan class="cjk" dx="3.1" dy="-0.5" fill="#5ad85a">）</tspan></text>
<text class="lbl" x="1542.0" y="901.0" text-anchor="end" fill="#111" ><tspan font-size="22.5">≤5 m</tspan><tspan font-size="15" dy="-9">2</tspan></text>
<line x1="1667.5" y1="927.4" x2="1837.6" y2="927.4" stroke="#5cdc88" stroke-width="2.6"/>
<line x1="1667.5" y1="922.8" x2="1667.5" y2="932.0" stroke="#5cdc88" stroke-width="2.4"/>
<line x1="1837.6" y1="922.8" x2="1837.6" y2="932.0" stroke="#5cdc88" stroke-width="2.4"/>
<circle cx="1748.0" cy="927.4" r="8.4" fill="#45dc65"/>
<text x="1854.0" y="936.8" text-anchor="middle" font-size="22" fill="#2fbf2f">*</text>
<text x="1863.3" y="933.9" font-size="19" fill="#30d830"><tspan class="cjk" dy="-0.5" fill="#5ad85a">（</tspan><tspan class="lat" dx="4.0" dy="0.5" font-size="22" letter-spacing="0.3" stroke="#30d830" stroke-width="0.3">11</tspan><tspan class="cjk" dx="3.1" dy="-0.5" fill="#5ad85a">）</tspan></text>
<text class="lbl" x="1542.0" y="932.5" text-anchor="end" fill="#111" ><tspan font-size="22.5">5-100 m</tspan><tspan font-size="15" dy="-9">2</tspan></text>
<line x1="1645.0" y1="962.6" x2="1712.5" y2="962.6" stroke="#5cdc88" stroke-width="2.6"/>
<line x1="1645.0" y1="958.0" x2="1645.0" y2="967.2" stroke="#5cdc88" stroke-width="2.4"/>
<line x1="1712.5" y1="958.0" x2="1712.5" y2="967.2" stroke="#5cdc88" stroke-width="2.4"/>
<circle cx="1674.4" cy="962.6" r="8.4" fill="#45dc65"/>
<text x="1719.9" y="970.3" font-size="19" fill="#30d830"><tspan class="cjk" dy="-0.5" fill="#5ad85a">（</tspan><tspan class="lat" dx="4.0" dy="0.5" font-size="22" letter-spacing="0.3" stroke="#30d830" stroke-width="0.3">17</tspan><tspan class="cjk" dx="3.1" dy="-0.5" fill="#5ad85a">）</tspan></text>
<text class="lbl" x="1540.5" y="967.4" text-anchor="end" fill="#111" ><tspan font-size="22.5">&gt;100 m</tspan><tspan font-size="15" dy="-9">2</tspan></text>
<line x1="1651.0" y1="998.0" x2="1736.0" y2="998.0" stroke="#5ae45a" stroke-width="2.6"/>
<line x1="1651.0" y1="993.4" x2="1651.0" y2="1002.6" stroke="#5ae45a" stroke-width="2.4"/>
<line x1="1736.0" y1="993.4" x2="1736.0" y2="1002.6" stroke="#5ae45a" stroke-width="2.4"/>
<circle cx="1692.4" cy="998.0" r="8.4" fill="#40ec40"/>
<text x="1752.7" y="1007.3" text-anchor="middle" font-size="22" fill="#2fbf2f">*</text>
<text x="1763.4" y="1009.1" font-size="19" fill="#30d830"><tspan class="cjk" dy="-0.5" fill="#5ad85a">（</tspan><tspan class="lat" dx="4.0" dy="0.5" font-size="22" letter-spacing="0.3" stroke="#30d830" stroke-width="0.3">26</tspan><tspan class="cjk" dx="3.1" dy="-0.5" fill="#5ad85a">）</tspan></text>
<text class="lbl" x="1538.0" y="1005.5" text-anchor="end" fill="#111" ><tspan font-size="22.5">≤1 yr</tspan></text>
<line x1="1657.0" y1="1033.0" x2="1835.5" y2="1033.0" stroke="#5ae45a" stroke-width="2.6"/>
<line x1="1657.0" y1="1028.4" x2="1657.0" y2="1037.6" stroke="#5ae45a" stroke-width="2.4"/>
<line x1="1835.5" y1="1028.4" x2="1835.5" y2="1037.6" stroke="#5ae45a" stroke-width="2.4"/>
<circle cx="1739.0" cy="1033.0" r="8.4" fill="#40ec40"/>
<text x="1838.4" y="1042.3" font-size="19" fill="#30d830"><tspan class="cjk" dy="-0.5" fill="#5ad85a">（</tspan><tspan class="lat" dx="4.0" dy="0.5" font-size="22" letter-spacing="0.3" stroke="#30d830" stroke-width="0.3">16</tspan><tspan class="cjk" dx="3.1" dy="-0.5" fill="#5ad85a">）</tspan></text>
<text class="lbl" x="1537.5" y="1041.5" text-anchor="end" fill="#111" ><tspan font-size="22.5">1-5 yr</tspan></text>
<line x1="1681.0" y1="1068.5" x2="1825.0" y2="1068.5" stroke="#5ae45a" stroke-width="2.6"/>
<line x1="1681.0" y1="1063.9" x2="1681.0" y2="1073.1" stroke="#5ae45a" stroke-width="2.4"/>
<line x1="1825.0" y1="1063.9" x2="1825.0" y2="1073.1" stroke="#5ae45a" stroke-width="2.4"/>
<circle cx="1743.4" cy="1068.5" r="8.4" fill="#40ec40"/>
<text x="1832.4" y="1075.4" font-size="19" fill="#30d830"><tspan class="cjk" dy="-0.5" fill="#5ad85a">（</tspan><tspan class="lat" dx="4.0" dy="0.5" font-size="22" letter-spacing="0.3" stroke="#30d830" stroke-width="0.3">4</tspan><tspan class="cjk" dx="5.6" dy="-0.5" fill="#5ad85a">）</tspan></text>
<text class="lbl" x="1536.0" y="1076.0" text-anchor="end" fill="#111" ><tspan font-size="22.5">&gt;5 yr</tspan></text>
<text x="1973.5" y="124.5" text-anchor="end" font-size="22.5" font-weight="bold" fill="#2f4a2f">FT</text>
<text x="1972.0" y="234.0" text-anchor="end" font-size="22.5" font-weight="bold" fill="#2f3d4d">MAT</text>
<text x="1972.0" y="342.0" text-anchor="end" font-size="22.5" font-weight="bold" fill="#2f4a2f">MAP</text>
<text x="1970.5" y="448.0" text-anchor="end" font-size="22.5" font-weight="bold" fill="#2f3d4d">NR</text>
<text x="1970.0" y="585.5" text-anchor="end" font-size="22.5" font-weight="bold" fill="#2f4a2f">NF</text>
<text x="1971.0" y="695.2" text-anchor="end" font-size="22.5" font-weight="bold" fill="#2f3d4d">pH</text>
<text x="1974.0" y="807.0" text-anchor="end" font-size="22.5" font-weight="bold" fill="#2f4a2f">C/N</text>
<text x="1967.0" y="904.2" text-anchor="end" font-size="22.5" font-weight="bold" fill="#2f3d4d">PS</text>
<text x="1973.0" y="1012.2" text-anchor="end" font-size="22.5" font-weight="bold" fill="#2f4a2f">DS</text>
<path d="M885.2,101.2 C887.4000000000001,96.2 887.0,96.55000000000001 888.8,93.55000000000001 S890.1999999999999,90.9 892.4,85.9" fill="none" stroke="#2a4a32" stroke-width="2" stroke-linecap="round"/>
<path d="M893.5,101.2 C895.7,96.2 895.25,96.55000000000001 897.05,93.55000000000001 S898.4,90.9 900.6,85.9" fill="none" stroke="#2a4a32" stroke-width="2" stroke-linecap="round"/>
<clipPath id="cin"><rect x="850" y="1060" width="60" height="18.5"/></clipPath>
<clipPath id="cout"><rect x="850" y="1078.5" width="60" height="20"/></clipPath>
<g clip-path="url(#cin)"><path d="M885.9,1090.8 C888.1,1085.8 887.2,1080.6999999999998 889.0,1077.6999999999998 S889.9,1069.6 892.1,1064.6" fill="none" stroke="#4f7a55" stroke-width="2" stroke-linecap="round"/></g>
<g clip-path="url(#cout)"><path d="M885.9,1090.8 C888.1,1085.8 887.2,1080.6999999999998 889.0,1077.6999999999998 S889.9,1069.6 892.1,1064.6" fill="none" stroke="#1a1a1a" stroke-width="2" stroke-linecap="round"/></g>
<g clip-path="url(#cin)"><path d="M893.6,1090.8 C895.8000000000001,1085.8 895.0500000000001,1080.6999999999998 896.85,1077.6999999999998 S897.9,1069.6 900.1,1064.6" fill="none" stroke="#4f7a55" stroke-width="2" stroke-linecap="round"/></g>
<g clip-path="url(#cout)"><path d="M893.6,1090.8 C895.8000000000001,1085.8 895.0500000000001,1080.6999999999998 896.85,1077.6999999999998 S897.9,1069.6 900.1,1064.6" fill="none" stroke="#1a1a1a" stroke-width="2" stroke-linecap="round"/></g>
</svg>
</body></html>
